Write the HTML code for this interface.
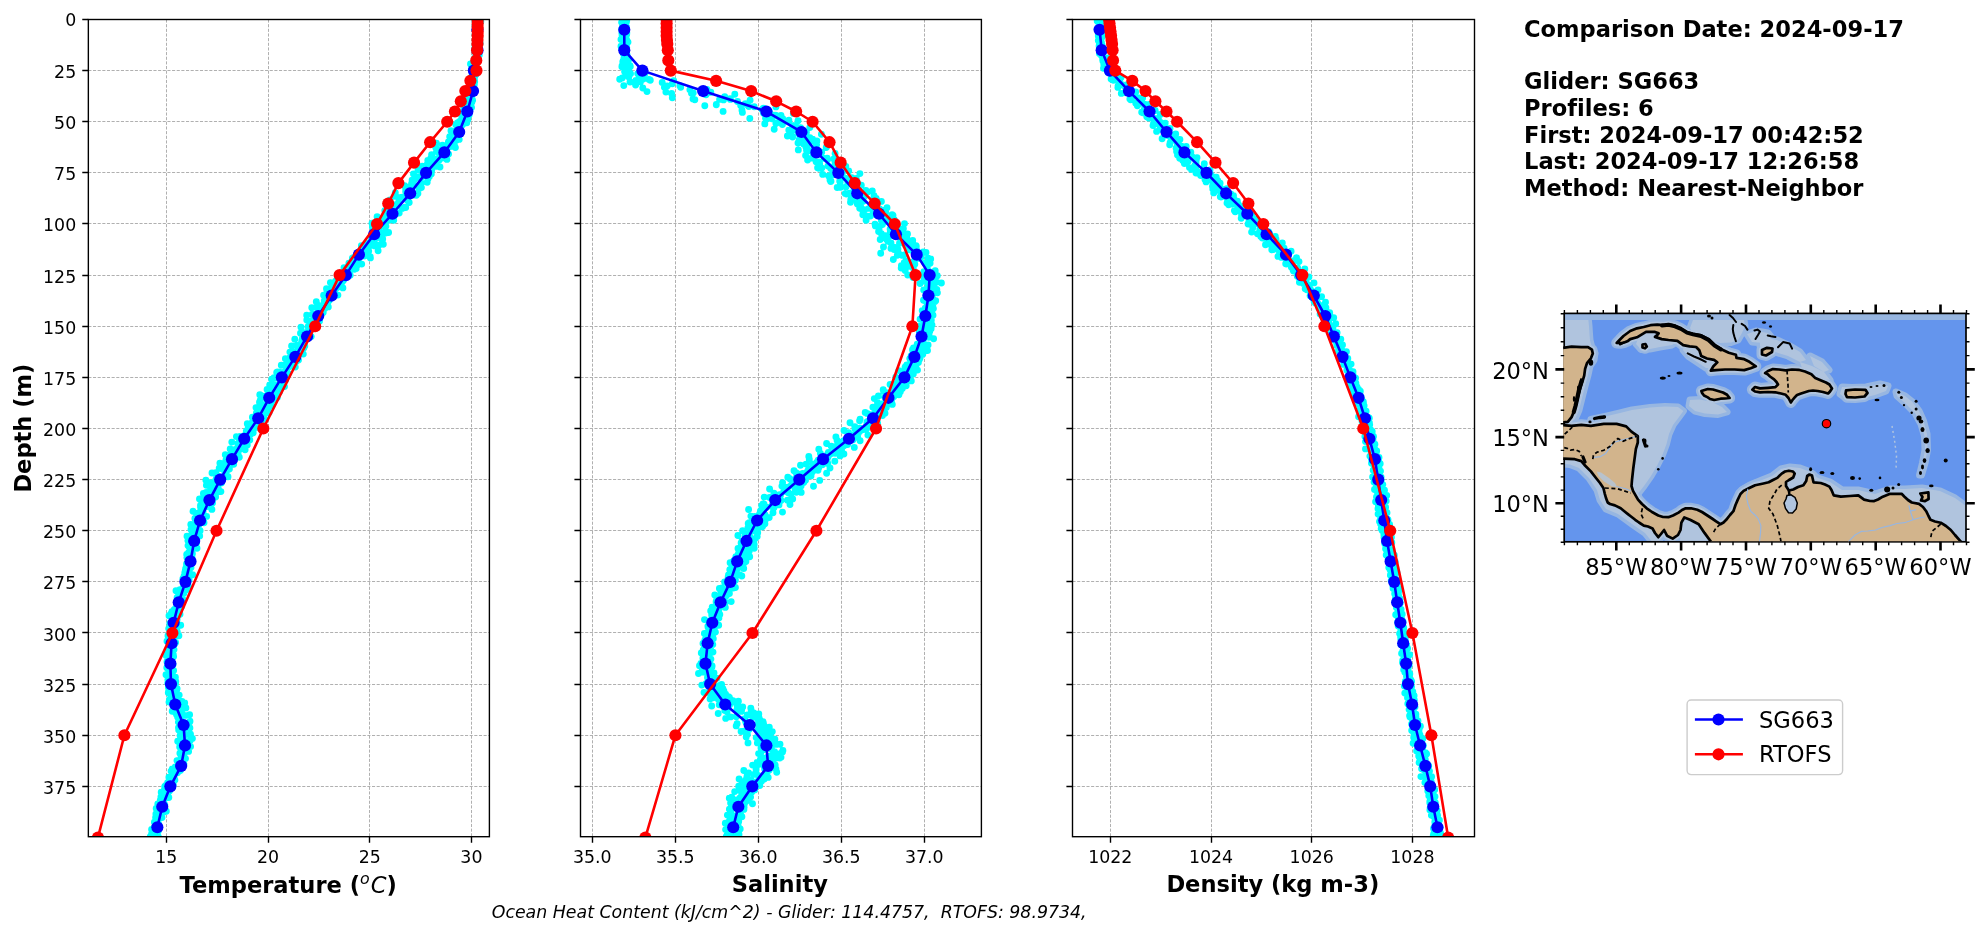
<!DOCTYPE html>
<html><head><meta charset="utf-8"><title>Glider vs RTOFS profile comparison</title>
<style>html,body{margin:0;padding:0;background:#fff;width:1983px;height:934px;overflow:hidden}</style>
</head><body>
<svg width="1983" height="934" viewBox="0 0 1983 934" style="display:block;will-change:transform;font-variant-ligatures:none">
<rect width="1983" height="934" fill="#ffffff"/>
<defs>
<clipPath id="c0"><rect x="88.35" y="19.5" width="401.05" height="817.2"/></clipPath>
<clipPath id="c1"><rect x="580.5" y="19.5" width="400.9" height="817.2"/></clipPath>
<clipPath id="c2"><rect x="1072.5" y="19.5" width="402" height="817.2"/></clipPath>
</defs>
<path d="M88.35 19.5H489.4M88.35 70.5H489.4M88.35 121.5H489.4M88.35 172.5H489.4M88.35 223.5H489.4M88.35 275.5H489.4M88.35 326.5H489.4M88.35 377.5H489.4M88.35 428.5H489.4M88.35 479.5H489.4M88.35 530.5H489.4M88.35 581.5H489.4M88.35 632.5H489.4M88.35 684.5H489.4M88.35 735.5H489.4M88.35 786.5H489.4M166.5 19.5V836.7M268.5 19.5V836.7M369.5 19.5V836.7M471.5 19.5V836.7" stroke="#b0b0b0" stroke-width="1" stroke-dasharray="3.1 1.55" fill="none"/>
<g clip-path="url(#c0)">
<path fill="none" stroke="#00ffff" stroke-width="6.9" stroke-linecap="round" d="M479.3 20.6h0M478.1 25.5h0M479.1 31.4h0M479.8 37.6h0M479.8 44.6h0M477.7 51.1h0M475.9 57.2h0M475.4 63.3h0M477.3 69.7h0M472.6 75.8h0M474.3 84.6h0M471.2 90.8h0M471.3 95.9h0M470.9 101.9h0M471.5 107.5h0M465.0 115.7h0M466.8 122.8h0M459.5 128.4h0M456.7 134.4h0M456.8 139.9h0M455.4 147.6h0M447.5 153.5h0M439.3 160.1h0M436.5 166.2h0M430.8 171.3h0M427.7 176.6h0M421.3 183.3h0M419.7 188.3h0M413.7 195.0h0M407.7 200.6h0M402.2 208.4h0M399.2 213.0h0M389.1 220.2h0M385.9 226.3h0M388.6 232.5h0M381.7 239.1h0M374.8 245.9h0M367.4 250.4h0M370.4 257.9h0M356.4 264.5h0M354.4 269.2h0M345.9 275.9h0M342.4 281.8h0M334.7 288.6h0M331.5 296.4h0M327.4 303.6h0M324.8 308.6h0M319.9 315.5h0M317.9 322.5h0M314.2 328.8h0M311.2 336.6h0M304.6 341.8h0M303.8 347.9h0M303.3 354.1h0M296.3 361.5h0M295.3 367.1h0M287.8 374.1h0M285.5 380.3h0M281.8 387.2h0M277.3 393.2h0M272.6 400.4h0M270.1 405.8h0M269.1 412.5h0M261.8 420.7h0M256.8 427.4h0M251.2 433.7h0M247.5 439.9h0M244.4 447.9h0M237.5 454.0h0M234.0 460.2h0M227.1 467.0h0M226.2 472.8h0M215.9 479.6h0M215.9 485.1h0M208.7 492.7h0M206.6 499.9h0M204.1 507.0h0M199.6 513.6h0M197.8 519.4h0M196.7 526.3h0M194.3 533.1h0M194.7 539.4h0M193.1 545.5h0M191.8 551.3h0M192.0 557.4h0M192.0 562.5h0M189.9 567.7h0M192.6 574.8h0M189.1 579.7h0M188.6 586.6h0M183.9 593.2h0M183.0 599.8h0M181.4 606.7h0M178.8 613.1h0M177.1 619.4h0M180.7 625.2h0M177.3 631.9h0M173.8 638.5h0M174.2 644.4h0M173.3 650.4h0M173.6 656.4h0M171.5 661.2h0M170.1 670.7h0M172.5 674.6h0M172.5 681.1h0M172.5 688.7h0M179.2 695.1h0M179.6 702.5h0M179.8 708.5h0M182.7 714.7h0M189.5 722.1h0M185.0 728.7h0M188.3 734.6h0M189.2 741.1h0M185.2 748.0h0M184.2 753.6h0M182.3 760.7h0M180.9 765.7h0M175.9 770.7h0M171.6 777.6h0M173.3 784.6h0M164.1 790.5h0M165.6 797.9h0M162.1 804.6h0M164.1 812.0h0M160.2 817.1h0M158.9 824.7h0M158.2 831.3h0M158.4 837.0h0M480.8 21.7h0M478.9 29.7h0M478.9 37.1h0M480.1 43.2h0M479.4 48.8h0M475.8 55.8h0M475.5 60.9h0M475.4 68.9h0M475.2 75.1h0M474.7 81.7h0M473.5 89.0h0M471.9 95.0h0M471.8 102.2h0M470.4 107.6h0M469.1 114.9h0M464.5 120.7h0M460.6 125.8h0M460.3 133.5h0M459.2 139.4h0M450.5 146.5h0M448.6 154.1h0M446.9 159.4h0M440.0 167.0h0M431.3 174.0h0M427.9 179.1h0M421.4 187.6h0M417.9 193.5h0M407.6 200.6h0M404.9 207.2h0M398.9 212.8h0M391.9 219.2h0M385.4 225.8h0M384.8 232.7h0M382.7 238.9h0M379.2 244.9h0M368.7 251.1h0M364.5 256.0h0M357.3 263.5h0M351.8 268.8h0M345.2 276.0h0M338.8 284.1h0M335.7 289.0h0M328.2 293.5h0M327.1 301.9h0M322.0 306.2h0M319.4 311.1h0M315.1 321.6h0M308.1 326.7h0M307.5 333.3h0M305.5 339.1h0M299.0 347.3h0M300.6 353.7h0M298.5 360.1h0M288.4 367.3h0M288.3 373.6h0M285.5 379.5h0M284.5 386.6h0M278.2 393.1h0M277.3 397.5h0M271.5 405.9h0M266.3 412.8h0M264.5 418.5h0M259.8 424.7h0M253.2 432.7h0M249.8 440.0h0M247.3 445.1h0M245.1 449.7h0M239.3 457.2h0M233.7 464.2h0M229.4 469.0h0M225.6 476.4h0M221.4 482.9h0M218.9 490.1h0M209.0 496.7h0M209.4 501.1h0M200.8 509.5h0M204.3 516.4h0M200.2 521.8h0M197.5 528.6h0M196.6 534.9h0M194.3 542.1h0M191.9 547.9h0M192.4 553.8h0M189.2 560.8h0M189.7 567.5h0M187.3 573.3h0M185.7 579.4h0M184.7 585.8h0M186.5 589.6h0M180.8 596.8h0M177.7 603.1h0M177.9 608.8h0M175.3 613.0h0M175.2 620.1h0M172.3 625.0h0M176.8 629.2h0M178.9 635.8h0M175.6 642.5h0M174.0 649.6h0M170.5 657.5h0M173.0 664.4h0M173.6 670.5h0M175.4 677.2h0M175.5 683.6h0M176.7 690.0h0M178.0 697.0h0M184.7 702.9h0M184.5 708.1h0M185.2 715.4h0M190.0 721.3h0M188.2 727.1h0M190.5 734.1h0M190.2 740.4h0M190.0 746.5h0M184.5 753.3h0M184.4 759.1h0M181.7 765.6h0M176.6 772.8h0M174.9 779.9h0M170.4 785.8h0M167.4 790.2h0M167.6 797.6h0M163.9 803.1h0M166.3 811.3h0M160.2 816.3h0M156.9 824.9h0M158.3 830.2h0M155.4 836.0h0M477.8 21.5h0M477.0 27.5h0M477.6 35.2h0M477.0 39.9h0M476.4 45.3h0M477.5 51.5h0M476.8 58.9h0M476.4 64.7h0M472.5 70.6h0M470.7 77.7h0M473.2 83.9h0M472.6 90.6h0M466.4 96.9h0M467.1 102.5h0M468.8 110.0h0M465.6 114.8h0M461.4 121.4h0M458.6 128.7h0M456.5 134.2h0M453.3 140.1h0M444.1 147.2h0M437.7 152.0h0M439.2 159.0h0M434.3 164.4h0M426.2 171.1h0M418.1 177.1h0M413.4 184.4h0M405.7 191.5h0M400.0 198.1h0M395.2 205.4h0M389.4 212.7h0M384.6 217.3h0M378.9 224.5h0M378.9 231.7h0M374.2 238.8h0M370.0 244.9h0M363.3 250.9h0M359.1 258.1h0M351.8 263.3h0M347.2 268.6h0M341.4 275.1h0M336.5 282.0h0M331.9 287.9h0M332.7 294.9h0M324.2 301.0h0M316.2 307.4h0M312.4 314.3h0M311.4 321.1h0M308.6 327.0h0M304.1 332.7h0M301.8 341.1h0M303.8 347.3h0M295.0 353.4h0M293.8 358.1h0M290.5 363.7h0M285.4 371.6h0M283.2 378.0h0M279.5 384.4h0M277.4 391.2h0M273.6 396.5h0M267.0 403.0h0M267.0 409.6h0M261.7 414.8h0M262.0 420.0h0M254.2 426.9h0M253.0 433.0h0M245.3 439.8h0M239.8 445.7h0M238.0 453.3h0M233.9 460.7h0M229.6 465.8h0M224.7 473.7h0M217.4 480.7h0M218.1 487.6h0M212.7 493.7h0M207.3 499.6h0M207.2 506.5h0M203.1 511.6h0M197.5 519.0h0M195.8 525.3h0M196.6 532.4h0M193.8 538.9h0M192.9 546.7h0M188.4 553.0h0M189.2 559.9h0M188.2 566.2h0M186.4 573.5h0M184.0 579.6h0M183.6 586.5h0M181.8 592.6h0M180.7 600.0h0M176.9 605.8h0M174.7 611.1h0M172.7 618.3h0M169.8 623.4h0M171.7 630.0h0M170.7 636.9h0M169.5 644.2h0M168.7 651.7h0M168.2 656.5h0M168.5 662.3h0M168.1 669.0h0M168.7 676.6h0M167.8 683.1h0M168.6 691.3h0M171.5 696.7h0M169.0 702.1h0M173.6 708.6h0M176.8 715.1h0M181.5 722.2h0M178.5 727.8h0M183.0 735.5h0M186.0 742.1h0M183.4 748.1h0M182.5 754.4h0M177.0 760.6h0M177.2 767.3h0M177.5 772.7h0M170.9 780.2h0M169.3 786.1h0M166.2 793.0h0M163.5 800.2h0M162.4 804.3h0M157.2 811.4h0M158.2 819.5h0M157.3 825.1h0M157.3 829.8h0M155.2 835.6h0M476.7 21.0h0M478.7 27.3h0M477.0 31.7h0M477.8 39.7h0M478.4 46.1h0M475.2 52.0h0M475.8 58.0h0M476.0 64.2h0M471.6 68.7h0M474.0 76.2h0M472.2 82.5h0M467.3 89.6h0M469.6 95.1h0M467.3 100.3h0M466.9 107.5h0M458.9 113.3h0M461.3 119.8h0M455.7 124.6h0M455.8 130.8h0M450.4 138.2h0M442.5 145.1h0M436.5 151.4h0M430.7 158.5h0M427.4 164.0h0M418.0 170.1h0M420.7 177.0h0M411.6 183.5h0M405.7 189.5h0M396.0 196.4h0M398.6 202.3h0M390.9 209.2h0M388.0 214.3h0M383.3 220.0h0M381.5 226.4h0M378.8 233.6h0M374.5 239.5h0M371.0 245.2h0M367.1 252.9h0M357.3 259.0h0M356.7 266.1h0M345.7 272.6h0M343.7 279.3h0M338.7 286.8h0M332.2 292.5h0M327.1 299.2h0M321.2 305.7h0M323.2 312.4h0M319.0 317.7h0M317.7 324.1h0M309.2 330.8h0M309.4 337.2h0M301.4 342.9h0M298.7 348.3h0M292.9 355.9h0M291.7 362.3h0M287.0 368.6h0M281.7 374.6h0M283.4 381.7h0M279.2 388.0h0M275.7 392.3h0M268.9 398.6h0M263.4 406.0h0M262.9 413.6h0M257.2 418.9h0M251.9 426.1h0M251.9 432.6h0M243.9 436.5h0M237.8 443.6h0M240.1 449.2h0M230.3 454.6h0M225.6 461.5h0M220.9 468.6h0M217.9 476.1h0M210.9 482.6h0M210.6 488.0h0M203.4 493.5h0M200.3 499.2h0M200.5 507.0h0M196.5 513.4h0M195.6 519.5h0M192.9 526.5h0M192.0 535.0h0M187.9 540.6h0M188.0 545.6h0M191.1 549.8h0M186.9 557.6h0M190.0 562.1h0M185.6 568.7h0M184.0 576.3h0M184.2 581.9h0M182.3 588.7h0M178.6 594.8h0M178.1 602.2h0M175.4 608.8h0M170.8 614.0h0M173.2 619.9h0M172.1 627.7h0M169.1 635.2h0M171.4 641.7h0M173.2 646.2h0M173.3 654.6h0M171.4 662.3h0M170.2 668.2h0M172.1 674.5h0M175.8 681.4h0M177.1 688.6h0M177.2 694.9h0M182.0 701.5h0M185.9 708.0h0M189.6 714.7h0M189.7 722.1h0M189.9 728.0h0M190.4 734.2h0M192.4 738.5h0M190.6 746.6h0M186.5 751.5h0M185.5 758.6h0M183.9 764.1h0M174.5 770.8h0M174.1 778.0h0M170.6 782.2h0M165.4 788.4h0M167.5 793.4h0M161.3 800.0h0M162.9 805.2h0M160.0 812.0h0M158.5 819.4h0M155.6 825.9h0M155.9 832.7h0M475.3 22.6h0M476.1 29.0h0M475.4 35.8h0M475.8 42.1h0M475.0 47.5h0M476.3 54.4h0M476.3 61.0h0M474.4 67.8h0M473.9 73.2h0M469.6 81.2h0M469.8 87.1h0M470.4 94.6h0M466.7 100.4h0M466.1 107.9h0M464.3 115.0h0M457.4 122.9h0M459.4 129.2h0M457.8 135.1h0M448.4 142.0h0M444.9 148.5h0M441.2 154.2h0M434.9 159.1h0M427.2 167.4h0M422.9 173.5h0M415.2 178.7h0M409.8 186.8h0M406.6 192.5h0M402.4 197.2h0M398.3 205.0h0M390.3 211.2h0M387.9 216.3h0M380.7 223.0h0M378.5 229.8h0M375.9 236.9h0M368.8 243.0h0M363.5 249.4h0M353.7 257.4h0M352.1 262.1h0M345.9 270.0h0M341.8 276.0h0M335.6 281.2h0M332.3 285.7h0M327.0 292.5h0M325.0 297.7h0M318.0 305.3h0M318.2 308.8h0M312.7 314.8h0M310.4 322.5h0M308.6 329.1h0M304.7 334.0h0M302.4 341.3h0M296.9 345.6h0M292.5 351.9h0M291.1 358.7h0M284.9 365.4h0M279.7 372.1h0M277.3 377.8h0M269.7 385.0h0M271.2 391.0h0M263.0 396.3h0M259.5 402.3h0M257.8 409.6h0M257.4 414.1h0M252.8 421.5h0M248.2 427.2h0M245.7 434.1h0M239.6 440.2h0M238.0 446.3h0M233.4 453.5h0M226.0 460.0h0M223.7 466.2h0M215.9 472.8h0M217.3 480.0h0M209.5 484.4h0M206.2 492.4h0M199.5 499.0h0M202.6 505.0h0M193.0 511.2h0M194.9 518.5h0M193.3 524.8h0M191.0 529.5h0M187.0 536.2h0M190.2 541.6h0M189.4 547.6h0M186.7 554.4h0M188.9 561.1h0M187.0 567.5h0M184.8 572.6h0M182.9 578.8h0M187.6 584.5h0M179.9 589.6h0M177.1 597.7h0M181.5 603.5h0M178.4 609.7h0M174.3 616.0h0M173.1 623.1h0M173.2 629.2h0M171.4 635.8h0M170.0 642.5h0M169.7 648.1h0M166.9 653.1h0M170.6 660.4h0M166.8 667.7h0M168.9 673.0h0M169.5 679.9h0M171.0 685.5h0M168.3 692.7h0M169.5 699.4h0M173.7 704.2h0M172.2 711.3h0M177.7 717.3h0M181.6 722.7h0M178.7 729.9h0M180.1 735.8h0M179.3 742.7h0M182.3 748.4h0M180.5 754.3h0M177.2 760.6h0M175.3 767.4h0M172.3 772.9h0M171.1 780.4h0M165.5 785.7h0M161.2 792.3h0M162.8 798.1h0M157.8 803.9h0M157.5 810.2h0M156.3 818.8h0M156.0 824.7h0M151.6 829.5h0M150.3 836.8h0M479.2 21.7h0M479.5 30.3h0M478.0 34.4h0M478.1 39.5h0M477.5 47.6h0M479.3 55.1h0M476.2 61.5h0M475.4 68.0h0M476.2 74.2h0M474.4 79.6h0M473.0 85.5h0M470.2 94.1h0M470.9 100.0h0M467.8 105.3h0M464.3 111.6h0M462.4 119.4h0M458.7 124.9h0M451.0 130.8h0M449.7 136.8h0M436.4 143.2h0M435.8 147.7h0M431.6 154.8h0M427.8 160.4h0M422.3 166.1h0M413.5 173.9h0M412.1 180.1h0M404.5 185.7h0M395.3 192.8h0M390.1 200.0h0M387.2 205.2h0M384.8 210.8h0M377.1 216.8h0M372.0 223.2h0M373.4 229.3h0M370.9 236.9h0M366.4 244.0h0M365.4 249.7h0M356.4 256.7h0M351.6 261.8h0M344.0 267.6h0M340.2 273.4h0M337.0 280.4h0M332.9 288.2h0M330.8 294.4h0M325.7 300.1h0M322.2 307.5h0M318.0 313.3h0M313.5 319.3h0M311.8 326.4h0M307.9 333.3h0M302.4 338.4h0M297.4 345.5h0M295.6 351.8h0M289.6 357.9h0M286.4 364.2h0M277.5 371.9h0M274.0 377.8h0M274.4 384.5h0M268.1 391.5h0M264.5 396.7h0M261.0 404.4h0M258.7 411.1h0M253.1 417.8h0M247.3 423.8h0M246.3 431.1h0M236.4 436.6h0M231.8 442.1h0M230.2 449.0h0M225.3 454.8h0M219.9 463.1h0M219.2 468.1h0M212.0 473.0h0M205.9 480.2h0M206.4 485.3h0M206.4 493.4h0M203.1 498.0h0M200.5 505.5h0M201.9 511.0h0M196.8 516.7h0M190.8 524.4h0M194.8 530.0h0M193.0 535.6h0M190.4 542.3h0M191.3 548.6h0M191.9 553.5h0M191.8 559.5h0M186.5 565.7h0M187.6 573.8h0M185.5 579.8h0M184.2 585.5h0M181.3 591.5h0M177.7 597.9h0M180.4 604.2h0M171.9 611.8h0M173.6 617.3h0M169.9 623.6h0M172.3 630.6h0M173.0 635.2h0M170.1 642.7h0M169.0 651.3h0M171.6 654.6h0M170.7 662.5h0M169.0 667.9h0M169.2 674.4h0M171.0 682.3h0M170.3 687.5h0M173.2 694.1h0M173.0 700.9h0M178.0 708.9h0M181.7 713.1h0M178.4 722.1h0M182.0 728.7h0M183.1 733.1h0M177.7 741.3h0M179.7 747.0h0M179.9 753.2h0M177.8 760.5h0M175.3 766.9h0M171.1 771.1h0M168.9 777.3h0M167.8 784.8h0M163.8 791.3h0M160.9 796.9h0M160.4 803.0h0M159.3 809.4h0M155.6 817.5h0M154.4 822.3h0M157.7 828.7h0M154.2 834.8h0M476.2 20.4h0M476.1 26.3h0M476.8 34.2h0M475.6 40.1h0M475.7 45.9h0M475.5 51.6h0M474.7 58.4h0M470.5 64.0h0M473.3 72.5h0M471.2 78.4h0M469.9 85.5h0M469.7 90.8h0M471.5 95.6h0M468.7 102.8h0M463.8 108.7h0M466.4 116.0h0M459.3 121.8h0M458.9 127.7h0M455.0 133.2h0M453.0 140.5h0M442.4 148.2h0M445.7 153.6h0M436.2 158.6h0M431.3 164.9h0M429.4 172.1h0M421.1 177.4h0M413.6 183.7h0M409.9 191.4h0M400.8 197.5h0M396.5 204.5h0M392.4 210.4h0M389.5 214.9h0M380.3 220.1h0M372.4 227.0h0M377.0 233.8h0M375.7 238.6h0M361.4 245.8h0M362.5 251.7h0M352.4 258.3h0M348.9 263.3h0M346.3 270.0h0M338.0 276.8h0M330.4 282.6h0M326.5 288.8h0M323.6 295.2h0M316.3 301.8h0M311.8 307.8h0M306.7 315.2h0M306.8 320.0h0M301.0 327.3h0M300.5 333.3h0M294.8 339.3h0M291.6 345.9h0M289.9 352.1h0M285.4 358.8h0M281.3 365.3h0M276.7 372.5h0M271.7 379.1h0M272.5 385.0h0M267.1 389.5h0M259.8 394.8h0M260.3 400.2h0M256.0 407.6h0M256.4 412.9h0M252.4 417.2h0M250.9 424.0h0M252.2 429.2h0M239.9 436.4h0M238.4 443.3h0M235.9 449.9h0M232.0 458.3h0M229.6 464.5h0M224.2 469.8h0M216.5 478.3h0M215.6 486.2h0M217.1 492.2h0M208.2 497.7h0M205.7 504.5h0M202.8 510.4h0M199.2 516.6h0M198.4 525.4h0M191.9 531.3h0M191.4 538.9h0M190.7 544.8h0M190.8 551.2h0M189.6 558.0h0M186.5 563.9h0M185.3 570.4h0M183.2 579.1h0M183.8 583.1h0M176.0 590.8h0M180.0 598.2h0M176.9 602.8h0M174.2 609.6h0M169.0 615.7h0M173.5 621.9h0M168.7 628.6h0M168.0 635.7h0M167.0 641.3h0M168.7 648.8h0M166.1 655.6h0M167.0 661.7h0M170.1 669.2h0M166.0 674.8h0M167.9 679.8h0M168.4 687.2h0M168.5 691.8h0M174.1 699.2h0M174.9 706.8h0M176.1 713.4h0M180.9 720.3h0M182.0 725.3h0M183.3 731.2h0M183.3 737.7h0M181.9 744.0h0M182.6 749.9h0M181.1 756.0h0M178.6 764.4h0M172.3 769.0h0M171.5 775.4h0M167.6 782.7h0M164.7 786.8h0M162.0 794.5h0M160.3 800.2h0M156.2 808.5h0M155.9 814.0h0M156.3 820.6h0M154.1 827.6h0M151.5 834.2h0M478.1 20.2h0M477.2 25.6h0M477.1 33.5h0M478.4 40.1h0M478.7 45.4h0M476.4 52.0h0M476.2 57.8h0M473.2 63.8h0M473.6 70.6h0M474.8 76.5h0M472.6 83.4h0M473.9 89.5h0M469.3 94.2h0M472.6 100.2h0M467.4 107.2h0M469.2 113.4h0M467.8 119.5h0M462.5 124.8h0M460.1 131.0h0M457.6 138.8h0M454.4 144.9h0M444.3 152.4h0M442.2 157.9h0M434.4 164.9h0M431.7 170.2h0M429.4 176.5h0M427.2 182.3h0M418.8 188.8h0M416.3 195.3h0M409.2 202.5h0M405.7 207.6h0M396.0 214.1h0M393.7 220.2h0M384.4 226.0h0M385.7 233.0h0M381.6 238.1h0M383.3 244.3h0M378.1 250.8h0M370.2 256.7h0M361.7 264.1h0M356.2 268.5h0M350.2 275.2h0M343.5 280.3h0M342.9 287.9h0M337.9 295.1h0M329.2 300.4h0M328.3 306.9h0M319.3 313.7h0M319.5 321.2h0M316.4 328.0h0M308.8 335.3h0M307.2 338.3h0M304.8 346.0h0M300.5 353.3h0M297.6 360.0h0M292.4 366.1h0M284.9 371.7h0M284.4 380.2h0M281.1 385.5h0M279.4 392.0h0M269.7 398.5h0M268.4 405.1h0M262.3 411.5h0M259.4 417.3h0M254.4 424.2h0M252.8 430.6h0M246.1 435.6h0M240.7 444.2h0M234.2 449.7h0M233.7 457.7h0M229.7 464.2h0M226.0 469.4h0M228.0 476.7h0M217.3 483.0h0M220.9 491.6h0M215.6 497.0h0M212.5 502.9h0M211.9 509.4h0M206.6 516.4h0M204.0 522.7h0M200.1 530.7h0M199.7 536.0h0M196.5 543.0h0M197.0 548.2h0M191.2 554.4h0M192.1 559.4h0M191.0 567.6h0M189.4 569.9h0M188.4 576.5h0M187.6 584.7h0M186.1 590.1h0M181.2 596.4h0M180.9 603.6h0M177.7 609.1h0M180.0 614.3h0M176.8 620.6h0M174.1 625.6h0M174.7 632.8h0M172.8 639.7h0M172.1 646.7h0M171.9 652.3h0M170.5 658.8h0M171.4 664.7h0M170.6 671.6h0M174.1 677.9h0M173.5 683.6h0M171.4 688.6h0M174.5 695.0h0M175.3 701.7h0M175.8 706.9h0M177.0 713.6h0M180.0 720.5h0M186.1 726.8h0M184.7 733.5h0M183.3 739.0h0M187.4 745.9h0M188.6 751.4h0M184.3 759.3h0M181.3 765.1h0M180.3 770.6h0M173.3 777.9h0M173.0 783.7h0M169.5 790.9h0M168.8 797.5h0M164.8 805.0h0M164.4 811.7h0M162.0 817.6h0M158.5 826.0h0M156.5 832.5h0M157.5 839.5h0"/>
<polyline points="477.5,29.72 477.5,50.17 473.84,70.62 473.03,91.07 467.33,111.52 459.2,131.97 444.35,152.42 426.04,172.87 410.18,193.32 392.48,213.77 374.17,234.22 358.92,254.66 345.9,275.11 331.66,295.56 318.24,316.01 307.05,336.46 295.26,356.91 281.83,377.36 269.22,397.81 258.24,418.26 244.2,438.71 232,459.15 220.2,479.6 209.42,500.05 200.06,520.5 194.17,540.95 190.5,561.4 185.42,581.85 178.71,602.3 173.62,622.75 171.59,643.2 170.37,663.65 170.98,684.09 175.25,704.54 183.59,724.99 185.01,745.44 181.15,765.89 170.37,786.34 162.23,806.79 157.35,827.24" stroke="#0000ff" stroke-width="2.6" fill="none" stroke-linejoin="round" stroke-linecap="square"/>
<g fill="#0000ff"><circle cx="477.5" cy="29.72" r="6.08"/><circle cx="477.5" cy="50.17" r="6.08"/><circle cx="473.84" cy="70.62" r="6.08"/><circle cx="473.03" cy="91.07" r="6.08"/><circle cx="467.33" cy="111.52" r="6.08"/><circle cx="459.2" cy="131.97" r="6.08"/><circle cx="444.35" cy="152.42" r="6.08"/><circle cx="426.04" cy="172.87" r="6.08"/><circle cx="410.18" cy="193.32" r="6.08"/><circle cx="392.48" cy="213.77" r="6.08"/><circle cx="374.17" cy="234.22" r="6.08"/><circle cx="358.92" cy="254.66" r="6.08"/><circle cx="345.9" cy="275.11" r="6.08"/><circle cx="331.66" cy="295.56" r="6.08"/><circle cx="318.24" cy="316.01" r="6.08"/><circle cx="307.05" cy="336.46" r="6.08"/><circle cx="295.26" cy="356.91" r="6.08"/><circle cx="281.83" cy="377.36" r="6.08"/><circle cx="269.22" cy="397.81" r="6.08"/><circle cx="258.24" cy="418.26" r="6.08"/><circle cx="244.2" cy="438.71" r="6.08"/><circle cx="232" cy="459.15" r="6.08"/><circle cx="220.2" cy="479.6" r="6.08"/><circle cx="209.42" cy="500.05" r="6.08"/><circle cx="200.06" cy="520.5" r="6.08"/><circle cx="194.17" cy="540.95" r="6.08"/><circle cx="190.5" cy="561.4" r="6.08"/><circle cx="185.42" cy="581.85" r="6.08"/><circle cx="178.71" cy="602.3" r="6.08"/><circle cx="173.62" cy="622.75" r="6.08"/><circle cx="171.59" cy="643.2" r="6.08"/><circle cx="170.37" cy="663.65" r="6.08"/><circle cx="170.98" cy="684.09" r="6.08"/><circle cx="175.25" cy="704.54" r="6.08"/><circle cx="183.59" cy="724.99" r="6.08"/><circle cx="185.01" cy="745.44" r="6.08"/><circle cx="181.15" cy="765.89" r="6.08"/><circle cx="170.37" cy="786.34" r="6.08"/><circle cx="162.23" cy="806.79" r="6.08"/><circle cx="157.35" cy="827.24" r="6.08"/></g>
<polyline points="477.71,19.5 477.71,23.59 477.71,27.68 477.71,31.77 477.71,35.86 477.5,39.95 477.5,44.04 477.1,50.17 476.28,60.4 476.49,70.62 470.38,80.85 465.3,91.07 460.82,101.3 454.92,111.52 447.2,121.75 430.11,142.19 414.04,162.64 398.38,183.09 388.21,203.54 377.02,223.99 339.6,275.11 315.19,326.24 263.32,428.48 216.54,530.73 172.4,632.97 124.4,735.22 97.96,837.46" stroke="#ff0000" stroke-width="2.6" fill="none" stroke-linejoin="round" stroke-linecap="square"/>
<g fill="#ff0000"><circle cx="477.71" cy="19.5" r="6.08"/><circle cx="477.71" cy="23.59" r="6.08"/><circle cx="477.71" cy="27.68" r="6.08"/><circle cx="477.71" cy="31.77" r="6.08"/><circle cx="477.71" cy="35.86" r="6.08"/><circle cx="477.5" cy="39.95" r="6.08"/><circle cx="477.5" cy="44.04" r="6.08"/><circle cx="477.1" cy="50.17" r="6.08"/><circle cx="476.28" cy="60.4" r="6.08"/><circle cx="476.49" cy="70.62" r="6.08"/><circle cx="470.38" cy="80.85" r="6.08"/><circle cx="465.3" cy="91.07" r="6.08"/><circle cx="460.82" cy="101.3" r="6.08"/><circle cx="454.92" cy="111.52" r="6.08"/><circle cx="447.2" cy="121.75" r="6.08"/><circle cx="430.11" cy="142.19" r="6.08"/><circle cx="414.04" cy="162.64" r="6.08"/><circle cx="398.38" cy="183.09" r="6.08"/><circle cx="388.21" cy="203.54" r="6.08"/><circle cx="377.02" cy="223.99" r="6.08"/><circle cx="339.6" cy="275.11" r="6.08"/><circle cx="315.19" cy="326.24" r="6.08"/><circle cx="263.32" cy="428.48" r="6.08"/><circle cx="216.54" cy="530.73" r="6.08"/><circle cx="172.4" cy="632.97" r="6.08"/><circle cx="124.4" cy="735.22" r="6.08"/><circle cx="97.96" cy="837.46" r="6.08"/></g>
</g>
<rect x="88.35" y="19.5" width="401.05" height="817.2" fill="none" stroke="#000" stroke-width="1.39" stroke-linejoin="miter"/>
<path d="M88.35 19.5h-6.08M88.35 70.5h-6.08M88.35 121.5h-6.08M88.35 172.5h-6.08M88.35 223.5h-6.08M88.35 275.5h-6.08M88.35 326.5h-6.08M88.35 377.5h-6.08M88.35 428.5h-6.08M88.35 479.5h-6.08M88.35 530.5h-6.08M88.35 581.5h-6.08M88.35 632.5h-6.08M88.35 684.5h-6.08M88.35 735.5h-6.08M88.35 786.5h-6.08M166.5 836.7v6.08M268.5 836.7v6.08M369.5 836.7v6.08M471.5 836.7v6.08" stroke="#000" stroke-width="1.39" fill="none"/>
<g font-family="'DejaVu Sans', 'Liberation Sans', sans-serif" font-size="17.36px" fill="#000"><text x="166.3" y="862.8" text-anchor="middle">15</text><text x="268" y="862.8" text-anchor="middle">20</text><text x="369.7" y="862.8" text-anchor="middle">25</text><text x="471.4" y="862.8" text-anchor="middle">30</text><text x="76.2" y="26.1" text-anchor="end">0</text><text x="76.2" y="78.22" text-anchor="end">25</text><text x="76.2" y="129.35" text-anchor="end">50</text><text x="76.2" y="180.47" text-anchor="end">75</text><text x="76.2" y="230.59" text-anchor="end">100</text><text x="76.2" y="282.71" text-anchor="end">125</text><text x="76.2" y="333.84" text-anchor="end">150</text><text x="76.2" y="384.96" text-anchor="end">175</text><text x="76.2" y="436.08" text-anchor="end">200</text><text x="76.2" y="487.2" text-anchor="end">225</text><text x="76.2" y="538.33" text-anchor="end">250</text><text x="76.2" y="589.45" text-anchor="end">275</text><text x="76.2" y="640.57" text-anchor="end">300</text><text x="76.2" y="691.69" text-anchor="end">325</text><text x="76.2" y="742.82" text-anchor="end">350</text><text x="76.2" y="793.94" text-anchor="end">375</text></g>
<path d="M580.5 19.5H981.4M580.5 70.5H981.4M580.5 121.5H981.4M580.5 172.5H981.4M580.5 223.5H981.4M580.5 275.5H981.4M580.5 326.5H981.4M580.5 377.5H981.4M580.5 428.5H981.4M580.5 479.5H981.4M580.5 530.5H981.4M580.5 581.5H981.4M580.5 632.5H981.4M580.5 684.5H981.4M580.5 735.5H981.4M580.5 786.5H981.4M592.5 19.5V836.7M675.5 19.5V836.7M758.5 19.5V836.7M841.5 19.5V836.7M924.5 19.5V836.7" stroke="#b0b0b0" stroke-width="1" stroke-dasharray="3.1 1.55" fill="none"/>
<g clip-path="url(#c1)">
<path fill="none" stroke="#00ffff" stroke-width="6.9" stroke-linecap="round" d="M625.5 22.0h0M626.2 28.7h0M626.0 36.7h0M625.8 41.1h0M625.9 47.3h0M625.5 53.6h0M626.8 59.8h0M629.0 67.4h0M627.1 71.7h0M649.0 79.4h0M680.7 87.3h0M710.8 92.2h0M730.4 99.4h0M754.2 106.7h0M767.4 111.9h0M782.7 118.7h0M792.6 125.6h0M804.0 132.9h0M812.6 139.3h0M805.8 146.7h0M821.7 152.2h0M824.4 158.4h0M838.6 165.0h0M836.7 170.4h0M842.3 175.5h0M840.2 182.2h0M854.1 189.6h0M855.1 195.9h0M863.2 201.2h0M871.0 208.0h0M872.8 214.3h0M881.4 220.6h0M879.3 226.8h0M890.2 232.7h0M886.8 239.4h0M893.9 247.1h0M898.9 253.9h0M905.8 261.1h0M907.7 266.1h0M923.5 274.1h0M924.0 279.7h0M928.0 284.9h0M932.5 291.7h0M930.6 297.4h0M930.5 304.3h0M928.7 309.6h0M931.0 315.1h0M930.7 320.9h0M930.3 328.3h0M927.3 334.6h0M922.0 340.9h0M924.2 348.4h0M922.8 354.3h0M913.8 360.5h0M910.4 367.6h0M910.5 375.3h0M911.3 380.9h0M902.4 387.4h0M898.9 394.7h0M891.1 400.4h0M884.0 408.3h0M882.5 415.5h0M877.0 420.3h0M868.7 426.9h0M858.0 433.8h0M852.8 439.9h0M843.9 445.8h0M835.2 453.2h0M827.2 459.0h0M822.4 464.7h0M812.6 471.6h0M796.3 477.7h0M792.0 483.9h0M787.5 491.5h0M778.1 498.9h0M772.0 505.4h0M762.1 511.0h0M754.5 516.4h0M749.2 522.7h0M755.6 529.9h0M746.6 536.2h0M747.4 543.2h0M740.8 550.1h0M737.4 557.1h0M737.4 563.3h0M734.5 568.2h0M731.1 574.4h0M727.6 581.0h0M719.4 588.4h0M719.7 595.4h0M719.4 600.8h0M715.3 608.2h0M711.7 614.9h0M710.0 621.6h0M708.0 626.9h0M708.3 634.9h0M704.2 642.2h0M706.3 647.9h0M706.9 654.8h0M707.4 661.5h0M707.6 668.7h0M709.3 675.0h0M708.9 682.6h0M713.0 687.0h0M718.4 694.6h0M722.3 699.3h0M726.6 706.8h0M747.4 714.9h0M745.4 720.8h0M759.5 726.9h0M762.4 733.5h0M769.9 740.7h0M772.0 745.5h0M782.1 752.2h0M772.9 759.6h0M771.9 764.8h0M776.7 772.3h0M768.2 777.4h0M759.2 784.1h0M754.7 789.9h0M750.6 797.1h0M752.5 803.8h0M738.8 809.7h0M734.1 817.0h0M736.5 822.7h0M734.3 830.0h0M733.3 836.5h0M625.6 21.8h0M625.3 28.3h0M623.6 34.3h0M625.3 40.0h0M623.5 47.5h0M625.0 52.8h0M625.0 58.2h0M626.2 63.2h0M627.8 71.2h0M639.0 77.5h0M662.2 82.5h0M689.9 89.8h0M706.0 94.7h0M737.5 101.5h0M763.1 108.4h0M773.8 115.3h0M781.6 122.9h0M795.7 128.5h0M798.7 133.7h0M807.4 141.4h0M815.9 147.0h0M813.4 153.0h0M826.2 159.0h0M833.7 167.0h0M838.8 170.2h0M841.2 177.3h0M847.9 182.5h0M854.2 191.0h0M859.4 195.7h0M872.9 204.0h0M878.5 211.2h0M886.2 217.4h0M891.9 223.6h0M897.7 231.2h0M900.8 240.0h0M905.4 245.3h0M911.4 250.3h0M918.9 258.4h0M914.8 264.2h0M923.9 271.7h0M928.3 278.1h0M933.3 284.9h0M928.3 292.8h0M929.1 298.8h0M927.6 305.0h0M929.9 311.5h0M927.5 316.0h0M929.6 323.5h0M928.5 330.1h0M921.4 336.5h0M919.5 344.0h0M913.5 347.9h0M919.8 353.2h0M913.4 360.0h0M905.4 366.6h0M903.4 372.1h0M897.1 378.3h0M890.1 384.4h0M883.5 390.4h0M874.3 398.6h0M878.5 404.5h0M865.2 412.4h0M860.1 419.3h0M850.0 422.7h0M844.0 430.5h0M835.9 436.9h0M826.6 443.5h0M818.8 449.2h0M808.8 456.5h0M800.5 465.3h0M794.0 470.8h0M787.8 477.2h0M782.6 482.6h0M769.6 489.0h0M764.2 497.1h0M763.0 504.0h0M748.6 509.5h0M750.9 516.1h0M748.2 523.4h0M742.6 530.7h0M737.9 535.5h0M741.1 542.9h0M738.0 548.5h0M740.7 554.6h0M733.8 560.7h0M732.9 567.9h0M728.5 574.9h0M728.0 583.3h0M720.0 589.2h0M717.1 595.6h0M717.2 601.0h0M716.5 608.5h0M719.8 614.4h0M710.8 620.7h0M710.1 626.5h0M710.2 633.8h0M704.9 640.1h0M704.6 647.2h0M706.4 653.1h0M704.0 660.0h0M712.1 665.9h0M712.7 672.9h0M711.7 678.4h0M710.5 684.1h0M720.1 690.5h0M724.9 695.7h0M733.2 702.1h0M741.6 709.9h0M752.3 714.4h0M763.4 722.9h0M758.2 729.7h0M765.6 735.7h0M763.7 741.9h0M766.5 747.4h0M761.0 752.2h0M763.1 758.0h0M752.6 765.1h0M748.6 773.0h0M739.1 779.0h0M738.7 786.2h0M734.7 791.6h0M729.3 798.3h0M733.3 804.5h0M729.4 809.3h0M727.4 815.1h0M725.3 823.2h0M725.6 829.6h0M727.1 834.9h0M622.3 21.7h0M622.3 27.3h0M622.2 34.0h0M622.5 39.8h0M621.0 46.2h0M624.3 52.5h0M623.8 58.8h0M622.0 65.9h0M624.6 71.4h0M622.2 78.0h0M635.6 85.0h0M665.9 92.1h0M693.0 98.9h0M716.3 104.5h0M742.0 110.2h0M765.5 118.3h0M775.9 123.4h0M789.7 130.5h0M800.2 137.8h0M803.5 144.1h0M806.5 149.9h0M811.9 158.0h0M819.2 162.0h0M818.6 168.2h0M832.1 175.0h0M830.7 181.5h0M837.2 187.5h0M846.5 194.0h0M850.5 202.3h0M859.7 208.2h0M862.8 214.7h0M866.1 220.2h0M875.4 225.9h0M881.3 233.6h0M880.2 239.5h0M883.5 247.0h0M880.7 253.3h0M893.3 259.5h0M901.4 265.8h0M905.2 270.6h0M913.0 277.6h0M920.1 283.5h0M923.7 289.9h0M925.8 295.6h0M926.3 301.9h0M925.2 308.1h0M928.8 312.1h0M920.1 319.3h0M919.2 326.4h0M919.3 331.8h0M922.6 338.9h0M917.7 344.7h0M917.1 352.5h0M916.4 359.8h0M915.9 365.8h0M913.3 372.9h0M905.3 379.3h0M902.2 385.4h0M893.9 391.9h0M891.6 399.9h0M879.4 405.5h0M876.2 410.5h0M870.8 416.9h0M870.8 423.8h0M860.1 428.1h0M851.0 436.0h0M841.0 442.3h0M835.3 448.2h0M828.4 455.7h0M816.7 462.5h0M808.6 469.1h0M799.2 474.2h0M792.9 480.7h0M787.8 487.3h0M780.5 495.3h0M773.2 502.2h0M764.2 507.1h0M763.0 513.2h0M760.1 518.8h0M752.8 524.6h0M751.8 531.2h0M748.2 536.1h0M742.6 541.8h0M742.9 548.9h0M740.8 555.8h0M736.7 560.9h0M731.9 566.4h0M730.3 572.0h0M728.1 578.1h0M729.0 585.2h0M721.2 591.6h0M724.4 598.0h0M720.1 605.2h0M718.4 610.6h0M714.2 618.5h0M710.9 624.3h0M709.8 629.0h0M709.0 635.1h0M709.0 641.2h0M705.1 646.6h0M701.3 652.9h0M706.6 659.8h0M699.5 665.7h0M698.5 673.5h0M708.1 679.0h0M701.8 685.1h0M704.0 692.4h0M710.1 699.0h0M711.7 706.0h0M718.2 713.5h0M725.7 718.4h0M736.2 725.9h0M741.1 731.5h0M746.2 736.9h0M748.0 742.9h0M761.0 747.9h0M758.6 753.6h0M760.4 759.4h0M756.4 766.7h0M747.1 773.2h0M745.7 780.1h0M746.6 785.7h0M741.5 792.9h0M735.8 800.7h0M735.1 805.5h0M730.6 812.1h0M733.1 819.5h0M732.4 825.6h0M728.9 830.8h0M727.6 836.9h0M626.7 20.8h0M626.5 26.9h0M626.4 34.0h0M626.0 42.3h0M626.5 48.1h0M626.8 55.0h0M626.9 64.0h0M626.6 68.6h0M630.5 73.7h0M640.5 81.8h0M664.4 87.2h0M691.5 93.3h0M723.5 99.9h0M748.8 106.6h0M769.4 111.8h0M780.1 119.5h0M794.8 125.4h0M801.7 133.1h0M809.9 137.8h0M816.6 144.8h0M821.3 152.3h0M827.2 158.2h0M835.1 162.7h0M846.1 170.1h0M851.7 177.6h0M856.0 184.2h0M865.9 190.4h0M874.0 195.7h0M881.4 201.4h0M887.0 207.7h0M892.1 214.8h0M894.2 219.6h0M897.5 226.1h0M900.6 232.7h0M906.8 238.1h0M911.2 244.6h0M916.5 249.5h0M921.2 257.0h0M924.8 263.1h0M928.4 270.9h0M932.3 276.6h0M934.5 282.7h0M936.3 289.6h0M932.3 294.8h0M935.7 300.7h0M932.9 306.8h0M931.0 313.8h0M924.5 319.6h0M927.7 327.1h0M925.7 333.1h0M922.4 341.0h0M918.8 346.6h0M918.5 352.5h0M914.6 358.4h0M910.5 363.2h0M907.5 369.7h0M907.8 377.6h0M898.6 383.1h0M899.6 387.4h0M891.0 393.9h0M886.1 399.2h0M879.8 406.8h0M875.7 412.9h0M871.3 418.4h0M866.5 425.7h0M859.6 431.5h0M848.1 436.8h0M842.9 443.0h0M834.4 451.9h0M828.3 456.6h0M824.7 462.8h0M811.9 468.9h0M811.0 475.9h0M804.4 480.1h0M799.1 488.0h0M788.3 492.8h0M779.4 500.5h0M773.1 507.4h0M763.4 512.5h0M764.2 518.9h0M757.8 524.3h0M750.9 531.7h0M750.4 537.6h0M745.1 543.5h0M748.7 549.3h0M744.9 556.4h0M742.2 562.5h0M734.7 568.5h0M731.0 574.0h0M731.1 581.6h0M733.2 588.1h0M724.9 594.6h0M721.9 599.9h0M725.3 607.4h0M718.9 613.0h0M716.5 619.7h0M718.7 625.3h0M715.4 632.1h0M713.3 638.7h0M712.8 644.6h0M713.0 652.1h0M710.9 659.1h0M710.8 666.2h0M709.6 673.3h0M713.4 679.9h0M718.7 685.8h0M723.9 690.9h0M729.4 697.5h0M737.1 703.8h0M751.2 710.1h0M752.8 717.3h0M759.5 723.1h0M766.2 730.3h0M767.8 735.9h0M771.2 741.4h0M768.9 747.0h0M776.9 753.8h0M770.7 759.7h0M764.2 766.1h0M756.2 773.1h0M750.8 779.7h0M750.1 786.3h0M744.1 791.7h0M740.0 797.9h0M738.4 804.9h0M739.0 810.1h0M734.1 815.9h0M735.6 822.5h0M734.8 828.1h0M737.3 836.1h0M626.5 21.3h0M626.3 27.9h0M625.5 34.7h0M628.0 42.1h0M626.7 47.4h0M627.0 54.7h0M628.1 60.9h0M630.0 65.6h0M637.7 73.6h0M650.3 80.2h0M679.9 85.8h0M705.2 91.5h0M730.0 98.7h0M746.7 104.4h0M762.1 109.6h0M775.6 115.2h0M786.6 120.9h0M800.5 127.7h0M805.8 134.7h0M812.9 140.7h0M816.2 147.3h0M818.4 154.1h0M827.4 159.8h0M828.0 166.0h0M840.0 172.6h0M845.5 178.1h0M852.2 184.8h0M855.4 191.6h0M864.4 196.6h0M872.8 203.4h0M879.6 209.0h0M885.6 212.0h0M888.8 220.4h0M896.9 227.7h0M901.1 233.9h0M912.5 240.6h0M916.0 245.8h0M923.2 251.9h0M928.2 258.1h0M930.1 263.3h0M935.2 270.8h0M937.3 275.7h0M936.7 282.1h0M934.9 288.5h0M931.2 295.1h0M935.0 301.5h0M933.4 308.6h0M933.0 315.3h0M923.9 321.9h0M931.1 328.8h0M929.1 335.4h0M922.6 341.4h0M922.6 349.6h0M918.1 355.1h0M913.2 359.7h0M908.3 368.7h0M902.7 375.6h0M899.3 380.6h0M892.5 386.4h0M883.6 391.6h0M885.6 398.0h0M877.5 405.3h0M875.5 410.8h0M871.0 414.6h0M866.9 422.2h0M855.0 428.9h0M848.7 434.8h0M843.7 440.8h0M838.3 446.9h0M831.6 453.5h0M818.2 460.1h0M818.7 467.8h0M811.4 473.5h0M805.5 480.3h0M801.1 486.0h0M796.2 492.3h0M787.5 500.3h0M779.0 504.9h0M773.0 512.7h0M765.9 519.0h0M762.9 526.0h0M756.7 531.9h0M751.8 540.6h0M754.2 544.4h0M749.1 551.4h0M749.7 556.8h0M743.9 563.1h0M743.7 568.5h0M741.8 576.0h0M734.7 581.0h0M735.4 587.5h0M729.4 593.5h0M731.2 601.6h0M724.0 606.3h0M717.4 611.5h0M718.9 618.0h0M714.6 624.4h0M714.2 629.2h0M710.8 635.6h0M708.7 642.3h0M710.8 650.3h0M708.4 656.5h0M708.3 662.5h0M706.4 669.0h0M710.5 673.8h0M711.9 680.5h0M716.0 688.5h0M725.6 694.1h0M732.9 700.6h0M742.7 707.0h0M753.8 713.0h0M758.0 719.4h0M764.0 725.4h0M772.3 731.6h0M770.8 737.6h0M776.5 744.4h0M782.5 752.1h0M776.3 758.1h0M771.3 764.5h0M769.1 770.2h0M763.0 776.0h0M755.2 783.5h0M750.8 790.5h0M748.8 798.0h0M743.5 802.9h0M743.9 809.4h0M741.9 816.8h0M735.0 822.3h0M739.0 828.1h0M734.0 834.1h0M626.4 22.0h0M626.0 28.9h0M626.8 33.0h0M626.8 40.1h0M626.5 45.8h0M625.4 54.6h0M628.6 59.7h0M630.3 66.4h0M645.0 73.4h0M673.7 80.6h0M706.9 89.5h0M734.8 94.2h0M750.1 100.2h0M775.9 106.9h0M793.3 113.5h0M798.0 120.7h0M809.8 127.5h0M821.4 134.2h0M816.9 140.9h0M826.2 147.5h0M835.1 153.5h0M841.2 160.5h0M845.8 166.4h0M859.9 173.6h0M851.2 179.3h0M857.6 183.6h0M872.3 190.9h0M876.2 198.4h0M875.3 205.9h0M885.1 213.4h0M893.7 220.3h0M896.8 225.7h0M902.4 231.5h0M906.1 236.3h0M907.5 242.3h0M909.3 249.8h0M919.7 256.4h0M925.5 263.5h0M927.2 268.8h0M935.0 275.2h0M941.4 283.0h0M936.8 289.5h0M932.2 296.5h0M932.3 301.8h0M929.3 308.8h0M930.7 314.8h0M931.3 320.2h0M930.3 326.9h0M929.7 331.4h0M928.8 337.3h0M928.1 345.0h0M927.5 350.5h0M920.1 357.8h0M916.9 362.5h0M917.5 370.1h0M907.4 377.5h0M902.4 383.6h0M898.2 390.4h0M897.2 394.6h0M889.8 402.4h0M883.3 408.0h0M880.6 415.2h0M873.3 422.2h0M863.6 429.6h0M857.7 437.5h0M847.6 444.5h0M839.4 451.1h0M840.1 455.9h0M827.8 463.4h0M818.0 470.2h0M806.9 476.1h0M803.7 482.4h0M795.0 488.4h0M790.8 493.9h0M781.0 500.4h0M773.9 507.7h0M765.1 514.9h0M762.7 520.7h0M762.0 526.9h0M757.7 532.8h0M755.0 538.7h0M753.5 544.2h0M742.5 550.6h0M741.8 557.9h0M736.9 563.9h0M733.0 569.3h0M730.4 575.1h0M729.5 582.8h0M726.6 589.8h0M726.5 595.5h0M722.9 602.6h0M719.8 606.6h0M717.6 613.8h0M710.7 620.5h0M714.0 626.5h0M712.5 631.8h0M708.7 638.2h0M710.8 645.7h0M706.0 650.3h0M704.7 655.6h0M710.2 664.1h0M710.7 670.7h0M716.9 678.3h0M721.6 684.5h0M722.9 688.8h0M728.4 696.7h0M738.4 701.3h0M750.8 708.1h0M758.8 714.0h0M763.0 721.7h0M769.3 727.3h0M771.4 732.6h0M774.9 739.3h0M780.0 744.2h0M782.9 750.5h0M779.9 758.0h0M775.2 765.0h0M767.4 771.5h0M764.3 779.1h0M759.8 785.5h0M751.8 792.0h0M747.0 797.3h0M742.0 803.1h0M737.2 808.1h0M741.0 815.4h0M738.7 821.5h0M739.0 827.9h0M739.0 834.5h0M625.9 22.3h0M626.4 28.7h0M626.7 34.5h0M625.7 39.3h0M623.9 47.8h0M625.9 52.5h0M627.0 58.3h0M627.4 63.5h0M627.3 69.3h0M628.8 77.1h0M630.0 82.0h0M642.8 88.0h0M671.6 93.4h0M694.8 99.7h0M716.3 104.8h0M742.4 112.4h0M766.1 119.6h0M776.6 122.9h0M788.8 130.1h0M792.6 137.0h0M804.3 141.1h0M807.1 148.4h0M816.2 154.6h0M816.1 161.7h0M830.7 168.6h0M839.1 175.0h0M839.7 181.3h0M845.9 186.9h0M850.8 194.6h0M857.6 202.2h0M869.1 208.4h0M877.3 215.5h0M885.7 221.3h0M890.1 229.1h0M886.3 236.2h0M899.5 243.3h0M898.0 249.1h0M902.5 255.4h0M906.6 262.6h0M908.7 266.2h0M923.6 273.5h0M928.7 279.8h0M928.1 286.8h0M931.9 293.4h0M927.5 298.0h0M928.0 304.9h0M932.0 310.7h0M930.4 316.0h0M932.0 325.0h0M928.7 330.8h0M933.6 338.7h0M923.6 343.7h0M919.4 349.9h0M919.2 356.6h0M918.4 362.5h0M911.3 369.0h0M913.3 374.1h0M904.0 382.2h0M902.3 388.4h0M893.7 396.7h0M890.0 402.1h0M886.3 407.5h0M885.0 413.2h0M877.6 423.2h0M877.1 428.3h0M867.9 435.1h0M860.1 440.7h0M854.3 447.4h0M843.9 454.0h0M834.8 461.2h0M830.0 468.0h0M826.6 473.2h0M819.7 480.4h0M813.5 486.2h0M801.2 492.4h0M792.7 499.0h0M790.0 504.6h0M782.5 512.1h0M769.2 517.6h0M764.9 523.8h0M756.5 529.6h0M757.2 536.4h0M753.7 542.4h0M754.2 548.2h0M746.3 554.2h0M745.9 561.4h0M737.6 568.4h0M739.7 574.8h0M735.4 580.3h0M729.0 586.7h0M728.1 593.7h0M722.6 600.8h0M718.2 607.4h0M716.5 614.1h0M714.2 618.3h0M710.4 626.4h0M707.4 632.8h0M707.5 638.8h0M704.7 646.6h0M705.1 652.5h0M702.9 658.3h0M706.5 664.7h0M703.9 672.0h0M710.2 678.5h0M708.5 685.6h0M711.8 693.7h0M718.3 699.2h0M729.5 704.9h0M736.7 710.5h0M744.7 718.7h0M748.7 724.2h0M764.1 731.4h0M764.1 737.3h0M770.9 744.8h0M774.5 751.7h0M781.0 757.3h0M773.4 764.3h0M775.9 769.0h0M766.6 774.4h0M761.6 781.0h0M752.5 786.4h0M750.8 791.7h0M747.6 797.2h0M744.2 804.4h0M739.1 811.1h0M737.0 815.5h0M738.3 822.7h0M740.2 828.9h0M735.4 836.1h0M621.6 22.2h0M621.8 29.3h0M622.1 35.2h0M622.9 43.1h0M621.6 48.3h0M623.3 53.7h0M624.2 60.4h0M621.9 66.8h0M626.6 72.5h0M619.7 79.3h0M623.8 85.6h0M647.0 91.6h0M672.3 97.7h0M704.8 105.8h0M723.1 111.4h0M749.8 118.4h0M764.8 123.9h0M774.2 129.3h0M787.4 136.0h0M798.0 143.0h0M798.3 149.9h0M805.6 155.4h0M807.6 160.1h0M817.6 167.8h0M822.7 174.4h0M831.0 181.2h0M839.4 186.7h0M845.2 193.6h0M852.1 199.8h0M860.6 206.4h0M864.6 209.8h0M866.8 216.0h0M882.4 224.6h0M878.6 231.5h0M888.4 237.7h0M891.0 242.9h0M894.1 249.5h0M904.3 254.9h0M912.6 262.0h0M913.3 268.3h0M923.5 275.5h0M933.2 280.7h0M929.1 287.7h0M926.4 293.5h0M932.8 300.2h0M929.2 305.6h0M926.1 312.7h0M923.7 318.2h0M925.8 324.6h0M923.7 330.6h0M923.0 338.7h0M917.2 344.2h0M912.5 349.7h0M911.1 355.9h0M913.4 361.1h0M905.0 367.5h0M902.3 373.5h0M900.4 378.7h0M896.7 385.6h0M887.7 392.9h0M884.9 397.6h0M882.8 403.8h0M877.6 410.3h0M871.7 416.4h0M867.3 421.6h0M857.2 428.7h0M853.9 435.0h0M846.1 441.3h0M836.6 445.9h0M828.4 452.4h0M821.7 457.5h0M812.6 464.3h0M807.7 471.0h0M803.1 475.1h0M794.0 483.5h0M786.2 489.1h0M779.5 494.8h0M776.0 502.4h0M766.7 507.2h0M759.5 514.2h0M757.6 520.3h0M754.1 525.7h0M751.8 530.9h0M748.6 537.6h0M746.0 544.6h0M740.1 549.0h0M738.1 555.9h0M732.2 563.4h0M734.7 570.6h0M728.2 576.5h0M729.2 583.9h0M728.3 590.0h0M722.9 596.6h0M725.3 602.4h0M716.2 610.0h0M714.0 616.2h0M715.0 622.6h0M708.9 628.6h0M712.8 634.2h0M705.4 639.3h0M709.4 646.5h0M709.4 654.5h0M707.2 660.8h0M702.8 665.3h0M702.4 672.0h0M707.9 678.7h0M712.6 686.3h0M708.4 692.5h0M713.0 697.7h0M719.2 704.8h0M727.0 711.7h0M736.3 716.7h0M737.1 723.8h0M743.7 731.3h0M756.2 737.6h0M757.4 742.9h0M765.7 749.3h0M769.9 756.3h0M757.1 762.5h0M756.1 769.5h0M754.1 774.4h0M751.2 781.3h0M744.4 787.7h0M743.7 793.7h0M737.3 799.8h0M734.8 805.4h0M730.9 811.6h0M730.2 818.3h0M727.7 825.4h0M727.1 830.8h0M726.2 836.8h0M622.3 20.5h0M622.9 27.8h0M621.9 33.3h0M621.0 39.5h0M624.8 46.3h0M624.0 53.1h0M624.1 58.6h0M623.6 65.3h0M629.4 72.3h0M643.3 79.1h0M672.3 83.7h0M704.7 92.1h0M724.7 96.8h0M745.3 103.6h0M763.5 108.3h0M781.0 115.5h0M788.9 120.2h0M796.6 127.1h0M806.4 132.2h0M811.7 140.8h0M815.8 145.5h0M820.1 152.0h0M833.9 158.9h0M838.5 166.2h0M848.7 171.0h0M856.2 178.5h0M861.3 185.3h0M867.6 192.0h0M873.9 197.5h0M878.4 201.5h0M884.7 210.1h0M893.0 215.4h0M904.5 223.6h0M903.4 228.6h0M907.5 233.9h0M912.7 240.4h0M916.3 246.3h0M926.0 252.5h0M930.7 258.9h0M927.4 265.9h0M931.2 272.9h0M932.2 280.3h0M934.0 285.3h0M937.4 292.7h0M931.7 297.9h0M930.9 305.0h0M922.2 310.6h0M923.9 318.0h0M923.9 323.4h0M921.3 331.9h0M920.2 336.8h0M918.8 344.5h0M916.3 351.2h0M909.8 358.6h0M906.8 365.0h0M898.8 370.6h0M895.8 377.3h0M895.2 384.1h0M883.2 389.8h0M878.4 395.9h0M877.5 402.8h0M872.9 407.3h0M867.1 413.4h0M859.6 420.7h0M854.8 426.7h0M848.6 432.8h0M837.1 440.4h0M831.3 446.3h0M820.4 453.4h0M809.3 459.1h0M806.1 464.1h0M795.9 472.6h0M789.8 478.7h0M781.9 486.1h0M773.9 493.2h0M769.6 497.4h0M761.7 505.6h0M760.4 510.9h0M756.3 517.2h0M753.9 522.4h0M748.0 527.7h0M747.1 534.2h0M744.8 539.1h0M744.7 547.4h0M738.4 553.6h0M737.8 557.9h0M738.4 566.0h0M735.4 573.0h0M735.2 579.0h0M728.2 584.1h0M724.3 589.9h0M726.1 596.0h0M716.1 601.8h0M718.9 609.4h0M715.3 615.8h0M709.7 622.3h0M712.4 628.6h0M712.6 635.3h0M709.6 643.0h0M708.4 648.5h0M709.0 653.4h0M709.8 662.3h0M711.9 667.0h0M714.0 673.0h0M714.9 678.7h0M720.9 685.3h0M723.6 692.3h0M731.4 700.4h0M737.2 706.1h0M741.4 711.4h0M759.3 718.4h0M758.2 724.3h0M764.5 730.2h0M768.1 737.6h0M766.8 744.8h0M763.5 749.8h0M768.3 756.4h0M761.1 764.0h0M743.8 770.5h0M746.9 777.0h0M742.0 782.8h0M739.4 790.1h0M731.7 797.1h0M730.6 802.9h0M730.4 808.7h0M730.2 813.8h0M729.3 821.3h0M728.2 829.4h0M729.3 833.5h0M623.8 23.1h0M624.6 29.1h0M624.4 35.4h0M624.5 42.7h0M625.1 50.9h0M625.3 56.4h0M622.8 61.8h0M625.2 66.4h0M626.1 74.5h0M635.9 80.4h0M667.2 86.0h0M693.2 92.9h0M719.6 99.4h0M740.7 105.6h0M763.6 113.2h0M771.9 118.8h0M782.4 124.6h0M792.2 131.0h0M799.2 139.7h0M807.9 143.6h0M809.6 150.7h0M813.5 155.9h0M819.7 164.0h0M821.8 168.1h0M828.7 176.0h0M830.0 180.1h0M840.5 187.2h0M849.6 193.3h0M850.8 199.8h0M857.4 203.9h0M862.9 211.1h0M870.4 216.1h0M875.0 224.1h0M879.1 230.0h0M885.5 235.8h0M887.9 241.2h0M891.0 248.4h0M897.3 255.2h0M904.2 262.7h0M901.2 268.1h0M907.7 275.0h0M925.2 281.2h0M928.4 286.8h0M928.0 292.9h0M923.5 300.3h0M932.0 307.7h0M925.9 313.5h0M923.2 318.4h0M925.0 327.4h0M922.1 333.2h0M923.4 339.2h0M921.0 346.3h0M919.5 351.8h0M919.5 359.3h0M915.7 365.8h0M909.4 370.5h0M903.9 377.3h0M906.2 385.7h0M900.3 391.7h0M889.9 398.7h0M892.3 404.4h0M883.1 410.5h0M874.9 416.4h0M876.2 422.8h0M866.3 429.3h0M856.1 436.2h0M847.7 442.9h0M841.7 448.9h0M827.7 453.9h0M821.4 459.8h0M817.9 465.9h0M802.8 473.4h0M799.9 476.9h0M791.4 485.2h0M783.8 491.2h0M777.0 498.2h0M764.1 504.2h0M761.5 511.9h0M758.5 517.6h0M754.1 523.8h0M749.7 528.8h0M745.1 536.0h0M741.9 541.3h0M740.8 548.9h0M735.9 556.8h0M730.1 562.7h0M729.8 569.8h0M729.1 574.9h0M724.6 582.0h0M721.8 587.9h0M714.8 595.0h0M716.6 599.6h0M712.2 607.1h0M710.7 610.9h0M704.5 619.6h0M707.9 626.1h0M704.4 633.4h0M705.6 638.9h0M703.0 643.4h0M703.2 649.9h0M706.3 656.7h0M700.9 663.4h0M701.9 671.5h0M707.5 677.5h0M706.0 683.8h0M711.1 690.6h0M711.0 696.6h0M722.6 704.4h0M724.8 710.4h0M730.6 716.9h0M746.0 722.4h0M749.1 729.5h0M747.4 734.6h0M758.4 742.0h0M771.6 749.5h0M772.4 756.1h0M766.3 763.3h0M764.6 768.8h0M758.5 775.6h0M756.5 781.8h0M752.7 788.0h0M745.1 794.7h0M746.0 801.6h0M744.1 807.2h0M739.5 812.6h0M738.0 819.4h0M733.3 827.0h0M729.6 832.8h0M731.2 838.9h0"/>
<polyline points="624.29,29.72 624.29,50.17 642.39,70.62 703.16,91.07 766.43,111.52 801.46,131.97 816.41,152.42 838.33,172.87 857.26,193.32 879.01,213.77 895.95,234.22 916.7,254.66 929.65,275.11 928.49,295.56 925.34,316.01 921.52,336.46 914.38,356.91 904.41,377.36 888.47,397.81 873.03,418.26 848.95,438.71 823.05,459.15 799.3,479.6 775.23,500.05 757.13,520.5 746.5,540.95 737.2,561.4 730.23,581.85 720.6,602.3 712.29,622.75 707.64,643.2 705.49,663.65 710.14,684.09 725.25,704.54 749.66,724.99 766.43,745.44 768.09,765.89 752.31,786.34 738.36,806.79 733.22,827.24" stroke="#0000ff" stroke-width="2.6" fill="none" stroke-linejoin="round" stroke-linecap="square"/>
<g fill="#0000ff"><circle cx="624.29" cy="29.72" r="6.08"/><circle cx="624.29" cy="50.17" r="6.08"/><circle cx="642.39" cy="70.62" r="6.08"/><circle cx="703.16" cy="91.07" r="6.08"/><circle cx="766.43" cy="111.52" r="6.08"/><circle cx="801.46" cy="131.97" r="6.08"/><circle cx="816.41" cy="152.42" r="6.08"/><circle cx="838.33" cy="172.87" r="6.08"/><circle cx="857.26" cy="193.32" r="6.08"/><circle cx="879.01" cy="213.77" r="6.08"/><circle cx="895.95" cy="234.22" r="6.08"/><circle cx="916.7" cy="254.66" r="6.08"/><circle cx="929.65" cy="275.11" r="6.08"/><circle cx="928.49" cy="295.56" r="6.08"/><circle cx="925.34" cy="316.01" r="6.08"/><circle cx="921.52" cy="336.46" r="6.08"/><circle cx="914.38" cy="356.91" r="6.08"/><circle cx="904.41" cy="377.36" r="6.08"/><circle cx="888.47" cy="397.81" r="6.08"/><circle cx="873.03" cy="418.26" r="6.08"/><circle cx="848.95" cy="438.71" r="6.08"/><circle cx="823.05" cy="459.15" r="6.08"/><circle cx="799.3" cy="479.6" r="6.08"/><circle cx="775.23" cy="500.05" r="6.08"/><circle cx="757.13" cy="520.5" r="6.08"/><circle cx="746.5" cy="540.95" r="6.08"/><circle cx="737.2" cy="561.4" r="6.08"/><circle cx="730.23" cy="581.85" r="6.08"/><circle cx="720.6" cy="602.3" r="6.08"/><circle cx="712.29" cy="622.75" r="6.08"/><circle cx="707.64" cy="643.2" r="6.08"/><circle cx="705.49" cy="663.65" r="6.08"/><circle cx="710.14" cy="684.09" r="6.08"/><circle cx="725.25" cy="704.54" r="6.08"/><circle cx="749.66" cy="724.99" r="6.08"/><circle cx="766.43" cy="745.44" r="6.08"/><circle cx="768.09" cy="765.89" r="6.08"/><circle cx="752.31" cy="786.34" r="6.08"/><circle cx="738.36" cy="806.79" r="6.08"/><circle cx="733.22" cy="827.24" r="6.08"/></g>
<polyline points="666.63,19.5 666.63,23.59 666.63,27.68 666.63,31.77 666.63,35.86 666.96,39.95 667.29,44.04 667.79,50.17 668.29,60.4 670.78,70.62 716.11,80.85 751.15,91.07 776.22,101.3 796.15,111.52 812.59,121.75 829.53,142.19 840.65,162.64 854.77,183.09 874.69,203.54 894.78,223.99 915.54,275.11 912.38,326.24 876.02,428.48 816.41,530.73 752.48,632.97 675.43,735.22 645.38,837.46" stroke="#ff0000" stroke-width="2.6" fill="none" stroke-linejoin="round" stroke-linecap="square"/>
<g fill="#ff0000"><circle cx="666.63" cy="19.5" r="6.08"/><circle cx="666.63" cy="23.59" r="6.08"/><circle cx="666.63" cy="27.68" r="6.08"/><circle cx="666.63" cy="31.77" r="6.08"/><circle cx="666.63" cy="35.86" r="6.08"/><circle cx="666.96" cy="39.95" r="6.08"/><circle cx="667.29" cy="44.04" r="6.08"/><circle cx="667.79" cy="50.17" r="6.08"/><circle cx="668.29" cy="60.4" r="6.08"/><circle cx="670.78" cy="70.62" r="6.08"/><circle cx="716.11" cy="80.85" r="6.08"/><circle cx="751.15" cy="91.07" r="6.08"/><circle cx="776.22" cy="101.3" r="6.08"/><circle cx="796.15" cy="111.52" r="6.08"/><circle cx="812.59" cy="121.75" r="6.08"/><circle cx="829.53" cy="142.19" r="6.08"/><circle cx="840.65" cy="162.64" r="6.08"/><circle cx="854.77" cy="183.09" r="6.08"/><circle cx="874.69" cy="203.54" r="6.08"/><circle cx="894.78" cy="223.99" r="6.08"/><circle cx="915.54" cy="275.11" r="6.08"/><circle cx="912.38" cy="326.24" r="6.08"/><circle cx="876.02" cy="428.48" r="6.08"/><circle cx="816.41" cy="530.73" r="6.08"/><circle cx="752.48" cy="632.97" r="6.08"/><circle cx="675.43" cy="735.22" r="6.08"/><circle cx="645.38" cy="837.46" r="6.08"/></g>
</g>
<rect x="580.5" y="19.5" width="400.9" height="817.2" fill="none" stroke="#000" stroke-width="1.39" stroke-linejoin="miter"/>
<path d="M580.5 19.5h-6.08M580.5 70.5h-6.08M580.5 121.5h-6.08M580.5 172.5h-6.08M580.5 223.5h-6.08M580.5 275.5h-6.08M580.5 326.5h-6.08M580.5 377.5h-6.08M580.5 428.5h-6.08M580.5 479.5h-6.08M580.5 530.5h-6.08M580.5 581.5h-6.08M580.5 632.5h-6.08M580.5 684.5h-6.08M580.5 735.5h-6.08M580.5 786.5h-6.08M592.5 836.7v6.08M675.5 836.7v6.08M758.5 836.7v6.08M841.5 836.7v6.08M924.5 836.7v6.08" stroke="#000" stroke-width="1.39" fill="none"/>
<g font-family="'DejaVu Sans', 'Liberation Sans', sans-serif" font-size="17.36px" fill="#000"><text x="592.24" y="862.8" text-anchor="middle">35.0</text><text x="675.26" y="862.8" text-anchor="middle">35.5</text><text x="758.29" y="862.8" text-anchor="middle">36.0</text><text x="841.32" y="862.8" text-anchor="middle">36.5</text><text x="924.34" y="862.8" text-anchor="middle">37.0</text></g>
<path d="M1072.5 19.5H1474.5M1072.5 70.5H1474.5M1072.5 121.5H1474.5M1072.5 172.5H1474.5M1072.5 223.5H1474.5M1072.5 275.5H1474.5M1072.5 326.5H1474.5M1072.5 377.5H1474.5M1072.5 428.5H1474.5M1072.5 479.5H1474.5M1072.5 530.5H1474.5M1072.5 581.5H1474.5M1072.5 632.5H1474.5M1072.5 684.5H1474.5M1072.5 735.5H1474.5M1072.5 786.5H1474.5M1110.5 19.5V836.7M1211.5 19.5V836.7M1311.5 19.5V836.7M1412.5 19.5V836.7" stroke="#b0b0b0" stroke-width="1" stroke-dasharray="3.1 1.55" fill="none"/>
<g clip-path="url(#c2)">
<path fill="none" stroke="#00ffff" stroke-width="6.9" stroke-linecap="round" d="M1099.3 20.4h0M1099.2 25.8h0M1101.0 31.2h0M1100.8 38.0h0M1101.2 43.5h0M1101.0 48.5h0M1102.6 55.1h0M1104.9 61.3h0M1108.5 68.1h0M1114.2 75.8h0M1119.7 81.4h0M1124.8 86.2h0M1132.5 93.0h0M1141.7 100.1h0M1147.2 106.5h0M1151.1 111.6h0M1158.4 118.3h0M1163.4 124.2h0M1165.5 131.5h0M1173.2 138.4h0M1177.4 143.9h0M1185.9 150.4h0M1192.0 156.6h0M1196.1 162.7h0M1203.3 169.0h0M1211.9 176.2h0M1217.8 180.7h0M1225.3 189.1h0M1231.0 194.2h0M1235.5 200.7h0M1243.1 206.6h0M1248.0 212.1h0M1256.3 219.1h0M1262.2 225.0h0M1268.6 231.8h0M1275.3 236.4h0M1282.3 243.0h0M1291.1 251.3h0M1296.5 257.8h0M1299.0 261.6h0M1304.8 269.0h0M1308.9 277.0h0M1314.0 282.9h0M1318.0 290.0h0M1321.6 296.6h0M1325.5 302.3h0M1325.9 307.8h0M1329.7 312.7h0M1333.7 317.8h0M1335.7 323.7h0M1337.1 332.8h0M1340.8 339.2h0M1342.5 345.0h0M1346.4 351.8h0M1347.8 358.4h0M1351.1 364.1h0M1353.0 371.6h0M1355.6 378.1h0M1355.9 383.1h0M1358.6 389.5h0M1361.0 396.6h0M1363.3 401.7h0M1362.9 408.8h0M1365.0 415.7h0M1366.6 421.6h0M1368.4 427.6h0M1368.2 435.6h0M1372.0 440.7h0M1372.6 447.1h0M1372.7 452.3h0M1372.5 459.0h0M1377.2 464.7h0M1375.0 470.9h0M1377.4 477.7h0M1376.4 483.5h0M1379.9 489.7h0M1379.8 496.5h0M1378.5 503.0h0M1381.7 510.3h0M1382.3 516.5h0M1383.8 523.1h0M1385.1 530.3h0M1388.6 537.0h0M1387.4 545.4h0M1389.2 552.7h0M1390.2 559.1h0M1392.7 566.4h0M1391.2 570.4h0M1394.3 577.5h0M1394.7 584.0h0M1396.2 591.9h0M1397.9 595.8h0M1398.9 603.5h0M1399.9 610.5h0M1401.4 617.4h0M1402.3 622.3h0M1403.6 628.7h0M1404.0 636.0h0M1403.3 642.3h0M1407.6 648.5h0M1409.6 654.8h0M1407.3 663.0h0M1408.2 668.3h0M1409.8 673.9h0M1411.6 681.5h0M1411.5 686.8h0M1412.8 691.7h0M1414.3 700.0h0M1414.5 705.6h0M1415.9 714.3h0M1418.0 720.9h0M1420.4 726.3h0M1419.0 732.0h0M1422.9 738.6h0M1423.4 745.4h0M1425.5 752.6h0M1425.0 758.5h0M1427.8 765.0h0M1428.8 772.7h0M1429.6 779.4h0M1430.8 785.5h0M1428.5 792.3h0M1430.6 798.9h0M1434.7 805.4h0M1435.2 813.8h0M1435.4 819.9h0M1434.6 826.5h0M1433.8 833.4h0M1099.1 22.0h0M1097.1 29.0h0M1098.8 33.8h0M1098.3 40.4h0M1099.7 45.9h0M1101.5 52.5h0M1102.7 58.3h0M1103.8 64.4h0M1107.2 70.1h0M1115.8 77.8h0M1121.9 84.9h0M1129.3 90.7h0M1139.0 97.9h0M1144.5 104.3h0M1149.2 109.9h0M1153.6 118.2h0M1160.1 122.3h0M1164.5 129.2h0M1170.3 134.7h0M1176.7 140.5h0M1181.4 146.3h0M1189.3 153.5h0M1196.3 160.0h0M1203.8 168.3h0M1210.4 174.0h0M1215.7 180.2h0M1219.9 184.6h0M1226.4 191.2h0M1233.6 198.0h0M1238.5 204.7h0M1246.6 211.6h0M1251.9 215.7h0M1257.5 223.2h0M1263.8 228.9h0M1271.4 237.7h0M1275.5 243.6h0M1284.1 248.2h0M1288.4 254.0h0M1293.6 260.7h0M1297.7 268.0h0M1300.9 273.7h0M1305.4 279.6h0M1308.7 285.3h0M1312.7 291.6h0M1316.9 298.8h0M1320.7 305.5h0M1323.3 311.9h0M1328.5 318.1h0M1329.1 326.7h0M1332.3 334.0h0M1333.8 339.8h0M1336.8 345.5h0M1340.1 353.1h0M1343.1 357.4h0M1344.1 363.4h0M1347.3 370.2h0M1349.7 376.5h0M1352.1 383.1h0M1352.4 389.2h0M1354.4 397.0h0M1358.3 403.7h0M1360.5 409.3h0M1361.5 415.7h0M1362.1 421.5h0M1363.9 426.9h0M1366.1 433.4h0M1366.9 440.1h0M1368.8 448.7h0M1371.6 453.4h0M1371.6 459.6h0M1374.4 466.6h0M1374.9 471.9h0M1374.8 480.1h0M1376.3 486.6h0M1377.9 493.1h0M1379.3 499.6h0M1378.4 505.7h0M1379.4 513.2h0M1380.9 518.5h0M1380.6 523.9h0M1382.2 530.4h0M1384.0 537.2h0M1384.7 543.4h0M1385.6 548.8h0M1388.0 554.9h0M1389.1 561.6h0M1390.0 569.4h0M1390.4 575.2h0M1392.5 580.0h0M1393.0 586.7h0M1395.8 592.3h0M1395.4 598.5h0M1398.1 604.8h0M1398.0 610.5h0M1399.9 616.5h0M1401.6 624.1h0M1400.8 630.2h0M1400.6 636.7h0M1403.5 644.6h0M1404.4 648.8h0M1405.7 656.3h0M1405.9 661.6h0M1403.7 669.7h0M1407.5 675.2h0M1408.2 682.6h0M1407.2 688.5h0M1409.2 695.3h0M1410.1 701.5h0M1411.8 707.7h0M1409.6 715.7h0M1412.4 720.5h0M1413.1 724.9h0M1414.0 733.2h0M1415.5 738.3h0M1417.6 745.7h0M1418.5 751.6h0M1419.3 757.2h0M1423.1 765.3h0M1422.6 769.2h0M1425.4 775.7h0M1425.5 782.0h0M1428.6 789.0h0M1428.8 795.7h0M1429.8 801.5h0M1430.1 808.1h0M1431.4 815.3h0M1434.8 822.0h0M1433.5 828.4h0M1433.3 835.3h0M1102.1 18.9h0M1101.7 24.4h0M1102.4 33.1h0M1101.3 38.2h0M1102.0 45.0h0M1103.5 51.1h0M1106.9 57.9h0M1110.2 64.6h0M1112.3 71.7h0M1121.0 77.6h0M1127.1 84.6h0M1135.7 92.0h0M1142.6 98.1h0M1149.2 104.5h0M1155.2 110.5h0M1160.3 114.5h0M1165.2 123.1h0M1170.0 128.5h0M1175.7 133.9h0M1179.9 139.5h0M1186.2 146.5h0M1190.8 152.3h0M1197.0 157.6h0M1204.3 163.7h0M1210.0 169.9h0M1216.2 177.3h0M1220.1 183.2h0M1226.7 188.8h0M1233.5 195.7h0M1237.4 201.2h0M1247.4 207.9h0M1251.6 214.3h0M1256.5 221.5h0M1262.8 226.1h0M1269.3 233.1h0M1276.0 239.3h0M1281.5 244.2h0M1283.7 252.0h0M1286.8 256.2h0M1291.6 262.7h0M1297.3 268.2h0M1301.2 275.3h0M1306.2 282.0h0M1310.3 289.3h0M1313.0 296.3h0M1315.8 301.3h0M1319.0 308.3h0M1325.3 315.8h0M1328.7 321.7h0M1329.4 326.9h0M1333.1 333.5h0M1335.6 338.2h0M1339.2 345.3h0M1342.6 351.4h0M1343.9 358.5h0M1346.2 364.5h0M1349.3 372.6h0M1352.5 377.4h0M1355.4 383.8h0M1358.8 392.2h0M1359.5 398.5h0M1363.4 402.2h0M1364.7 411.5h0M1368.8 417.8h0M1369.7 424.7h0M1372.2 431.5h0M1373.5 436.5h0M1374.9 444.2h0M1376.7 450.9h0M1379.0 457.4h0M1380.2 463.7h0M1380.5 471.1h0M1381.1 477.1h0M1382.8 484.6h0M1384.5 490.3h0M1386.7 495.5h0M1386.2 501.1h0M1385.6 507.2h0M1387.0 512.8h0M1388.0 519.6h0M1389.6 524.5h0M1390.6 530.2h0M1391.4 537.2h0M1391.8 542.5h0M1392.0 549.9h0M1394.3 555.2h0M1395.2 561.6h0M1395.8 568.3h0M1397.0 572.6h0M1397.4 580.7h0M1397.4 584.9h0M1398.5 592.2h0M1400.1 599.0h0M1399.1 605.0h0M1400.8 609.7h0M1400.3 618.7h0M1402.8 623.3h0M1402.0 629.2h0M1405.0 635.8h0M1405.6 642.0h0M1404.5 650.8h0M1406.2 657.0h0M1406.7 662.2h0M1407.5 669.1h0M1409.4 675.3h0M1409.3 681.1h0M1410.0 688.4h0M1414.1 695.7h0M1413.7 702.0h0M1415.0 706.9h0M1415.9 716.4h0M1416.2 720.8h0M1419.2 728.9h0M1420.0 734.9h0M1421.4 740.9h0M1420.9 747.5h0M1426.6 753.9h0M1425.3 759.7h0M1428.7 765.9h0M1429.5 771.1h0M1431.6 776.8h0M1431.8 784.4h0M1434.7 789.7h0M1435.0 796.6h0M1435.2 802.4h0M1437.2 810.6h0M1437.6 815.5h0M1439.4 820.3h0M1440.1 827.2h0M1440.6 833.3h0M1097.6 21.4h0M1098.3 29.2h0M1099.0 35.5h0M1099.3 43.0h0M1100.8 48.5h0M1101.2 55.3h0M1103.9 61.2h0M1106.4 66.3h0M1110.5 73.0h0M1116.3 78.1h0M1122.0 84.8h0M1128.8 91.3h0M1132.9 96.7h0M1140.0 103.5h0M1147.3 111.2h0M1150.2 117.3h0M1156.8 123.6h0M1161.0 128.5h0M1166.3 135.3h0M1172.2 139.5h0M1177.1 147.2h0M1181.0 154.0h0M1187.6 159.3h0M1194.9 165.5h0M1200.3 172.0h0M1209.0 179.3h0M1213.2 185.8h0M1218.8 190.5h0M1226.8 198.0h0M1231.9 204.1h0M1240.4 211.4h0M1242.3 215.5h0M1252.5 222.9h0M1259.8 229.6h0M1260.8 236.4h0M1270.2 242.3h0M1278.5 249.2h0M1282.1 254.6h0M1287.7 260.8h0M1291.4 267.3h0M1297.7 273.5h0M1302.7 280.5h0M1305.7 284.9h0M1310.8 291.3h0M1311.6 296.9h0M1317.8 303.5h0M1322.1 311.1h0M1326.6 317.3h0M1329.0 324.1h0M1332.9 328.0h0M1334.1 336.5h0M1336.5 342.9h0M1340.2 348.2h0M1344.2 356.8h0M1347.1 362.6h0M1347.0 369.1h0M1353.2 375.3h0M1354.3 381.2h0M1356.4 387.9h0M1358.1 394.1h0M1361.5 399.2h0M1364.1 405.8h0M1365.9 411.5h0M1365.0 418.5h0M1367.8 425.2h0M1369.8 430.9h0M1370.8 438.4h0M1373.0 443.0h0M1373.8 449.2h0M1374.6 455.6h0M1374.9 460.9h0M1378.0 467.2h0M1374.8 472.6h0M1376.4 479.3h0M1379.5 485.5h0M1377.5 492.5h0M1380.5 497.1h0M1380.5 503.5h0M1382.9 510.7h0M1380.6 518.2h0M1384.2 524.9h0M1384.9 531.5h0M1384.4 537.3h0M1386.8 541.8h0M1386.1 549.6h0M1386.2 554.9h0M1389.9 561.2h0M1388.8 567.5h0M1392.1 574.1h0M1391.2 580.8h0M1394.2 587.8h0M1394.7 593.8h0M1395.5 598.9h0M1396.2 605.3h0M1397.4 613.3h0M1398.9 619.7h0M1400.2 623.8h0M1401.0 631.6h0M1400.8 638.9h0M1401.0 644.8h0M1403.0 650.4h0M1404.2 657.2h0M1402.5 662.4h0M1404.1 668.1h0M1407.3 673.7h0M1407.1 681.7h0M1409.2 687.8h0M1409.3 694.2h0M1410.1 701.4h0M1411.7 707.3h0M1412.5 712.3h0M1413.3 720.9h0M1413.6 726.4h0M1416.2 732.4h0M1415.6 738.7h0M1420.0 744.1h0M1421.9 751.0h0M1424.8 757.5h0M1422.4 765.7h0M1427.0 770.3h0M1429.6 778.4h0M1429.0 785.2h0M1430.4 791.3h0M1433.2 795.7h0M1432.4 801.8h0M1433.3 808.7h0M1435.0 815.5h0M1436.1 821.1h0M1436.1 828.3h0M1437.6 834.4h0M1101.3 22.0h0M1102.8 30.2h0M1098.3 35.9h0M1101.0 41.4h0M1101.4 47.3h0M1101.3 54.1h0M1103.0 61.2h0M1103.5 68.2h0M1108.1 72.6h0M1112.3 79.7h0M1118.0 86.2h0M1125.6 92.7h0M1129.9 99.0h0M1137.0 104.6h0M1141.7 112.2h0M1148.7 118.1h0M1154.9 122.2h0M1159.8 129.3h0M1168.4 135.8h0M1170.7 141.8h0M1178.2 148.9h0M1181.2 153.8h0M1188.1 161.2h0M1195.7 167.8h0M1203.4 175.0h0M1212.6 181.5h0M1218.4 188.0h0M1223.0 192.6h0M1230.4 199.6h0M1237.6 206.5h0M1243.5 212.6h0M1250.2 218.6h0M1254.2 224.5h0M1262.5 230.8h0M1266.9 236.5h0M1272.9 242.8h0M1273.4 249.5h0M1281.5 257.4h0M1286.2 264.1h0M1293.5 271.1h0M1300.2 276.7h0M1303.4 283.5h0M1305.2 288.8h0M1312.8 295.8h0M1315.3 302.9h0M1319.2 307.9h0M1323.5 314.0h0M1327.4 319.8h0M1329.7 326.5h0M1333.9 333.2h0M1336.4 339.2h0M1340.0 344.5h0M1342.4 351.0h0M1343.8 357.9h0M1347.5 364.9h0M1349.3 371.6h0M1351.0 376.0h0M1354.2 383.4h0M1356.6 389.8h0M1359.7 398.5h0M1362.2 403.7h0M1364.1 409.4h0M1367.1 416.9h0M1367.9 420.9h0M1368.3 426.6h0M1369.1 434.0h0M1369.8 439.5h0M1372.0 444.4h0M1373.0 450.3h0M1373.4 457.5h0M1376.2 462.7h0M1377.3 468.9h0M1376.9 474.6h0M1376.1 482.6h0M1379.7 488.1h0M1380.2 496.3h0M1380.0 503.2h0M1380.5 509.8h0M1381.9 513.8h0M1384.4 520.7h0M1386.5 526.4h0M1385.5 533.8h0M1387.9 539.1h0M1388.5 544.7h0M1390.1 553.8h0M1390.0 557.6h0M1394.0 563.6h0M1394.8 569.9h0M1394.9 576.4h0M1397.6 583.7h0M1399.6 589.2h0M1398.6 595.7h0M1400.3 602.9h0M1401.1 609.4h0M1402.2 614.2h0M1403.1 621.8h0M1403.7 627.6h0M1404.5 633.4h0M1405.3 639.1h0M1406.7 645.4h0M1405.6 652.7h0M1407.7 659.4h0M1409.1 665.2h0M1408.8 672.4h0M1410.8 679.9h0M1409.5 685.3h0M1410.4 692.1h0M1409.2 697.5h0M1411.3 704.0h0M1412.2 710.8h0M1414.1 716.5h0M1413.0 721.1h0M1416.1 728.3h0M1415.7 733.8h0M1416.7 740.1h0M1417.6 745.3h0M1420.4 752.3h0M1420.6 759.0h0M1423.8 764.2h0M1424.8 770.6h0M1428.0 777.4h0M1430.6 783.5h0M1430.8 791.0h0M1431.7 796.7h0M1434.2 804.0h0M1435.3 810.7h0M1436.6 816.4h0M1437.7 823.6h0M1439.3 828.7h0M1440.6 834.9h0M1097.2 21.1h0M1100.9 27.1h0M1098.3 33.8h0M1098.7 40.2h0M1099.1 45.9h0M1099.4 53.6h0M1102.7 59.9h0M1105.7 67.7h0M1108.7 72.5h0M1113.5 80.3h0M1117.9 87.4h0M1121.3 93.4h0M1130.6 99.8h0M1137.4 105.7h0M1142.7 112.7h0M1146.8 116.7h0M1153.0 125.6h0M1156.6 131.4h0M1162.1 138.7h0M1169.7 144.7h0M1176.6 151.4h0M1179.7 158.2h0M1184.4 163.5h0M1191.4 169.4h0M1200.7 175.5h0M1206.1 181.9h0M1212.8 188.9h0M1220.3 196.7h0M1227.0 203.1h0M1234.4 210.6h0M1241.6 215.3h0M1249.0 221.5h0M1252.8 227.7h0M1257.5 233.8h0M1265.2 238.3h0M1271.9 246.9h0M1279.5 252.5h0M1284.7 257.6h0M1291.5 263.2h0M1294.1 270.5h0M1298.5 276.1h0M1304.9 282.0h0M1311.0 290.4h0M1311.8 295.9h0M1316.5 301.1h0M1321.4 306.5h0M1323.8 313.2h0M1327.9 319.6h0M1329.6 326.0h0M1331.2 331.5h0M1334.1 338.2h0M1337.3 345.3h0M1338.4 351.0h0M1342.8 357.2h0M1343.7 364.4h0M1346.8 370.3h0M1349.0 377.2h0M1349.8 384.2h0M1353.5 390.5h0M1354.1 395.5h0M1357.5 402.1h0M1359.7 409.5h0M1358.6 416.8h0M1363.2 424.8h0M1365.2 431.1h0M1364.9 436.5h0M1365.5 441.6h0M1365.5 448.9h0M1369.9 456.1h0M1371.5 463.3h0M1373.2 470.3h0M1372.6 476.9h0M1374.0 482.1h0M1374.5 489.5h0M1376.5 497.0h0M1375.6 501.7h0M1378.0 508.8h0M1378.1 514.0h0M1379.5 521.6h0M1381.2 528.7h0M1383.9 534.8h0M1386.4 541.6h0M1387.2 548.5h0M1390.6 555.5h0M1389.5 561.4h0M1389.7 567.0h0M1390.6 573.9h0M1393.4 578.4h0M1393.2 583.3h0M1395.5 591.0h0M1396.4 596.8h0M1397.4 603.4h0M1398.1 611.0h0M1397.3 616.0h0M1401.2 624.0h0M1401.9 630.6h0M1401.2 636.2h0M1401.6 642.9h0M1404.3 648.8h0M1401.6 653.4h0M1402.7 660.4h0M1405.9 666.7h0M1404.9 672.3h0M1405.3 681.5h0M1404.3 686.1h0M1404.8 693.1h0M1407.5 697.8h0M1407.8 703.8h0M1409.1 709.5h0M1410.0 717.0h0M1411.6 723.9h0M1411.7 730.4h0M1413.7 737.4h0M1413.1 743.2h0M1416.6 751.0h0M1418.7 755.9h0M1419.1 762.6h0M1421.6 768.8h0M1420.9 776.6h0M1424.9 782.6h0M1427.8 790.9h0M1429.1 796.0h0M1429.8 802.7h0M1429.9 810.1h0M1433.6 816.6h0M1434.9 821.8h0M1437.7 828.8h0M1436.2 833.7h0M1101.0 21.9h0M1100.8 28.7h0M1102.3 36.7h0M1101.5 42.7h0M1101.4 48.3h0M1101.8 54.4h0M1105.5 61.3h0M1107.0 66.7h0M1111.4 73.7h0M1111.1 78.9h0M1118.6 85.1h0M1124.8 92.5h0M1130.4 98.7h0M1135.8 103.2h0M1144.1 109.8h0M1147.5 115.4h0M1153.5 123.4h0M1160.7 129.4h0M1164.1 135.5h0M1170.1 142.7h0M1176.1 148.3h0M1177.5 154.9h0M1182.8 160.4h0M1189.5 167.6h0M1196.0 173.1h0M1205.0 179.5h0M1212.5 186.3h0M1213.7 192.9h0M1220.9 197.1h0M1228.7 204.7h0M1235.2 211.8h0M1241.2 218.3h0M1248.1 224.0h0M1251.6 232.1h0M1262.3 238.0h0M1265.5 244.7h0M1271.8 249.8h0M1278.0 256.4h0M1285.7 263.7h0M1293.1 269.9h0M1297.3 276.2h0M1299.4 282.2h0M1306.7 289.7h0M1310.1 295.7h0M1314.1 301.3h0M1319.3 308.5h0M1320.1 314.0h0M1326.6 319.8h0M1330.1 326.5h0M1332.5 332.7h0M1334.9 337.7h0M1338.2 343.7h0M1339.0 350.3h0M1342.8 356.6h0M1346.7 363.0h0M1349.1 369.1h0M1351.0 374.7h0M1353.8 379.8h0M1357.0 386.9h0M1360.3 391.2h0M1360.3 399.2h0M1363.7 406.7h0M1366.1 411.3h0M1369.3 418.3h0M1369.4 422.8h0M1370.7 430.0h0M1370.2 434.6h0M1373.0 439.7h0M1374.6 448.5h0M1376.3 454.5h0M1378.6 460.4h0M1378.9 467.5h0M1379.4 473.8h0M1381.2 480.5h0M1380.1 486.0h0M1384.0 492.2h0M1383.0 499.2h0M1382.6 505.8h0M1383.5 511.8h0M1385.3 517.5h0M1385.3 525.4h0M1386.0 530.7h0M1386.1 539.1h0M1385.1 544.3h0M1387.7 551.7h0M1388.2 559.3h0M1390.1 564.6h0M1390.5 570.3h0M1392.6 576.9h0M1392.8 582.5h0M1393.1 588.6h0M1395.1 594.5h0M1394.7 602.3h0M1396.4 607.4h0M1395.7 614.8h0M1397.7 622.2h0M1398.2 626.0h0M1399.6 633.6h0M1400.8 637.9h0M1401.8 644.9h0M1403.3 652.1h0M1403.7 658.9h0M1406.4 665.2h0M1407.0 671.0h0M1406.5 676.3h0M1406.5 682.5h0M1409.2 690.5h0M1408.6 698.0h0M1411.2 702.1h0M1413.4 710.8h0M1412.5 716.6h0M1414.2 723.6h0M1415.6 731.1h0M1419.4 737.7h0M1419.0 743.8h0M1422.7 750.8h0M1424.1 757.0h0M1425.2 762.4h0M1426.9 768.5h0M1428.1 774.4h0M1431.2 781.6h0M1431.9 789.2h0M1433.9 795.7h0M1435.3 802.8h0M1435.1 810.8h0M1437.4 816.0h0M1437.1 820.7h0M1439.1 828.2h0M1440.2 833.8h0"/>
<polyline points="1099.58,29.72 1101.69,50.17 1109.9,70.62 1128.98,91.07 1149.52,111.52 1166.49,131.97 1184.42,152.42 1206.52,172.87 1226.1,193.32 1247.3,213.77 1266.59,234.22 1285.97,254.66 1301.13,275.11 1313.81,295.56 1325.29,316.01 1333.85,336.46 1342.51,356.91 1350.32,377.36 1358.53,397.81 1364.92,418.26 1369.4,438.71 1374.89,459.15 1378.21,479.6 1381.18,500.05 1384.3,520.5 1387.07,540.95 1390.6,561.4 1394.22,581.85 1397.19,602.3 1400.32,622.75 1403.19,643.2 1406.11,663.65 1408.02,684.09 1412.1,704.54 1415.02,724.99 1420.1,745.44 1425.39,765.89 1430.22,786.34 1433.3,806.79 1437.42,827.24" stroke="#0000ff" stroke-width="2.6" fill="none" stroke-linejoin="round" stroke-linecap="square"/>
<g fill="#0000ff"><circle cx="1099.58" cy="29.72" r="6.08"/><circle cx="1101.69" cy="50.17" r="6.08"/><circle cx="1109.9" cy="70.62" r="6.08"/><circle cx="1128.98" cy="91.07" r="6.08"/><circle cx="1149.52" cy="111.52" r="6.08"/><circle cx="1166.49" cy="131.97" r="6.08"/><circle cx="1184.42" cy="152.42" r="6.08"/><circle cx="1206.52" cy="172.87" r="6.08"/><circle cx="1226.1" cy="193.32" r="6.08"/><circle cx="1247.3" cy="213.77" r="6.08"/><circle cx="1266.59" cy="234.22" r="6.08"/><circle cx="1285.97" cy="254.66" r="6.08"/><circle cx="1301.13" cy="275.11" r="6.08"/><circle cx="1313.81" cy="295.56" r="6.08"/><circle cx="1325.29" cy="316.01" r="6.08"/><circle cx="1333.85" cy="336.46" r="6.08"/><circle cx="1342.51" cy="356.91" r="6.08"/><circle cx="1350.32" cy="377.36" r="6.08"/><circle cx="1358.53" cy="397.81" r="6.08"/><circle cx="1364.92" cy="418.26" r="6.08"/><circle cx="1369.4" cy="438.71" r="6.08"/><circle cx="1374.89" cy="459.15" r="6.08"/><circle cx="1378.21" cy="479.6" r="6.08"/><circle cx="1381.18" cy="500.05" r="6.08"/><circle cx="1384.3" cy="520.5" r="6.08"/><circle cx="1387.07" cy="540.95" r="6.08"/><circle cx="1390.6" cy="561.4" r="6.08"/><circle cx="1394.22" cy="581.85" r="6.08"/><circle cx="1397.19" cy="602.3" r="6.08"/><circle cx="1400.32" cy="622.75" r="6.08"/><circle cx="1403.19" cy="643.2" r="6.08"/><circle cx="1406.11" cy="663.65" r="6.08"/><circle cx="1408.02" cy="684.09" r="6.08"/><circle cx="1412.1" cy="704.54" r="6.08"/><circle cx="1415.02" cy="724.99" r="6.08"/><circle cx="1420.1" cy="745.44" r="6.08"/><circle cx="1425.39" cy="765.89" r="6.08"/><circle cx="1430.22" cy="786.34" r="6.08"/><circle cx="1433.3" cy="806.79" r="6.08"/><circle cx="1437.42" cy="827.24" r="6.08"/></g>
<polyline points="1109.04,19.5 1109.54,23.59 1110.05,27.68 1110.55,31.77 1111.06,35.86 1111.56,39.95 1112.06,44.04 1112.57,50.17 1113.02,60.4 1115.28,70.62 1132.3,80.85 1145.49,91.07 1155.41,101.3 1166.49,111.52 1177.11,121.75 1197.1,142.19 1215.48,162.64 1233.1,183.09 1248.41,203.54 1263.31,223.99 1302.39,275.11 1324.39,326.24 1363.26,428.48 1390.2,530.73 1412.4,632.97 1431.38,735.22 1448.15,837.46" stroke="#ff0000" stroke-width="2.6" fill="none" stroke-linejoin="round" stroke-linecap="square"/>
<g fill="#ff0000"><circle cx="1109.04" cy="19.5" r="6.08"/><circle cx="1109.54" cy="23.59" r="6.08"/><circle cx="1110.05" cy="27.68" r="6.08"/><circle cx="1110.55" cy="31.77" r="6.08"/><circle cx="1111.06" cy="35.86" r="6.08"/><circle cx="1111.56" cy="39.95" r="6.08"/><circle cx="1112.06" cy="44.04" r="6.08"/><circle cx="1112.57" cy="50.17" r="6.08"/><circle cx="1113.02" cy="60.4" r="6.08"/><circle cx="1115.28" cy="70.62" r="6.08"/><circle cx="1132.3" cy="80.85" r="6.08"/><circle cx="1145.49" cy="91.07" r="6.08"/><circle cx="1155.41" cy="101.3" r="6.08"/><circle cx="1166.49" cy="111.52" r="6.08"/><circle cx="1177.11" cy="121.75" r="6.08"/><circle cx="1197.1" cy="142.19" r="6.08"/><circle cx="1215.48" cy="162.64" r="6.08"/><circle cx="1233.1" cy="183.09" r="6.08"/><circle cx="1248.41" cy="203.54" r="6.08"/><circle cx="1263.31" cy="223.99" r="6.08"/><circle cx="1302.39" cy="275.11" r="6.08"/><circle cx="1324.39" cy="326.24" r="6.08"/><circle cx="1363.26" cy="428.48" r="6.08"/><circle cx="1390.2" cy="530.73" r="6.08"/><circle cx="1412.4" cy="632.97" r="6.08"/><circle cx="1431.38" cy="735.22" r="6.08"/><circle cx="1448.15" cy="837.46" r="6.08"/></g>
</g>
<rect x="1072.5" y="19.5" width="402" height="817.2" fill="none" stroke="#000" stroke-width="1.39" stroke-linejoin="miter"/>
<path d="M1072.5 19.5h-6.08M1072.5 70.5h-6.08M1072.5 121.5h-6.08M1072.5 172.5h-6.08M1072.5 223.5h-6.08M1072.5 275.5h-6.08M1072.5 326.5h-6.08M1072.5 377.5h-6.08M1072.5 428.5h-6.08M1072.5 479.5h-6.08M1072.5 530.5h-6.08M1072.5 581.5h-6.08M1072.5 632.5h-6.08M1072.5 684.5h-6.08M1072.5 735.5h-6.08M1072.5 786.5h-6.08M1110.5 836.7v6.08M1211.5 836.7v6.08M1311.5 836.7v6.08M1412.5 836.7v6.08" stroke="#000" stroke-width="1.39" fill="none"/>
<g font-family="'DejaVu Sans', 'Liberation Sans', sans-serif" font-size="17.36px" fill="#000"><text x="1110.3" y="862.8" text-anchor="middle">1022</text><text x="1211" y="862.8" text-anchor="middle">1024</text><text x="1311.7" y="862.8" text-anchor="middle">1026</text><text x="1412.4" y="862.8" text-anchor="middle">1028</text></g>
<g font-family="'DejaVu Sans', 'Liberation Sans', sans-serif" font-size="22.57px" font-weight="bold" fill="#000">
<text transform="translate(30.5 428.1) rotate(-90)" text-anchor="middle">Depth (m)</text>
<text x="288.2" y="893.1" text-anchor="middle">Temperature (<tspan font-weight="normal" font-style="italic" font-size="15.8px" dy="-8.7">o</tspan><tspan font-weight="normal" font-style="italic" dy="8.7" dx="1">C</tspan>)</text>
<text x="779.8" y="891.9" text-anchor="middle">Salinity</text>
<text x="1272.8" y="891.9" text-anchor="middle">Density (kg m-3)</text>
</g>
<text x="789.2" y="917.8" text-anchor="middle" font-family="'DejaVu Sans', 'Liberation Sans', sans-serif" font-size="17.36px" font-style="italic" fill="#000" style="white-space:pre">Ocean Heat Content (kJ/cm^2) - Glider: 114.4757,  RTOFS: 98.9734,</text>
<g font-family="'DejaVu Sans', 'Liberation Sans', sans-serif" font-size="22.57px" font-weight="bold" fill="#000" style="white-space:pre">
<text x="1524" y="36.5">Comparison Date: 2024-09-17</text>
<text x="1524" y="88.9">Glider: SG663</text>
<text x="1524" y="115.7">Profiles: 6</text>
<text x="1524" y="142.5">First: 2024-09-17 00:42:52</text>
<text x="1524" y="169.3">Last: 2024-09-17 12:26:58</text>
<text x="1524" y="196.1">Method: Nearest-Neighbor</text>
</g>
<defs><clipPath id="mapc"><rect x="1564.2" y="313.4" width="401.8" height="228.4"/></clipPath><clipPath id="mapl"><rect x="1563.2" y="313.4" width="402.8" height="227.9"/></clipPath></defs>
<g clip-path="url(#mapc)">
<rect x="1564.2" y="313.4" width="401.8" height="228.4" fill="#6495ed"/>
<path d="M1564.2 313.4 L1966.0 313.4 L1966.0 320.0 L1564.2 320.0Z" fill="#97b6e1"/>
<path d="M1564.2 320.0 L1588.4 320.0 L1589.0 326.0 L1589.5 334.0 L1590.0 340.0 L1591.5 346.0 L1564.2 348.0ZM1592.0 349.0 L1595.0 353.0 L1594.0 360.0 L1590.0 366.0 L1588.0 375.0 L1585.0 386.0 L1582.0 398.0 L1579.0 410.0 L1575.0 419.0 L1570.0 423.0 L1574.5 410.3 L1578.4 394.9 L1582.2 382.4 L1585.1 368.9 L1590.9 358.3ZM1590.8 419.5 L1605.0 416.5 L1620.0 413.0 L1632.0 410.0 L1650.0 407.5 L1665.0 406.5 L1678.0 407.0 L1683.4 411.0 L1679.0 417.0 L1673.0 425.0 L1669.0 434.0 L1666.5 444.0 L1662.8 454.1 L1657.7 464.4 L1651.0 476.0 L1644.0 486.0 L1638.5 493.0 L1634.0 488.0 L1632.5 470.0 L1634.6 455.0 L1636.0 443.0 L1634.0 433.0 L1626.0 424.0 L1610.0 421.5ZM1690.0 400.0 L1700.0 399.5 L1712.0 402.0 L1722.0 407.0 L1727.0 412.0 L1718.0 414.5 L1705.0 413.5 L1695.0 411.0 L1689.0 406.0ZM1693.0 320.0 L1744.0 320.0 L1745.0 326.0 L1742.0 333.0 L1738.0 340.0 L1731.0 342.5 L1720.0 343.0 L1712.0 341.0 L1706.0 337.5 L1699.0 334.8 L1693.0 333.8 L1690.0 328.0ZM1747.0 334.0 L1756.0 331.0 L1768.0 333.0 L1772.0 338.0 L1764.0 343.0 L1752.0 342.0ZM1760.0 337.0 L1777.0 340.0 L1790.0 346.0 L1800.0 352.0 L1806.0 360.0 L1800.0 362.0 L1788.0 356.0 L1775.0 352.0 L1764.0 352.0 L1760.0 346.0ZM1810.0 356.0 L1822.0 362.0 L1829.0 370.0 L1824.0 372.0 L1814.0 366.0ZM1639.0 336.0 L1646.0 331.9 L1655.0 331.9 L1658.6 333.3 L1657.0 337.0 L1668.0 340.5 L1677.0 341.5 L1672.0 345.0 L1660.0 347.0 L1650.0 349.0 L1641.0 349.5 L1636.0 344.0ZM1684.0 346.0 L1696.0 347.0 L1699.3 350.2 L1701.2 356.0 L1707.0 358.5 L1714.0 359.8 L1717.3 362.4 L1712.0 368.0 L1706.0 368.0 L1697.0 362.0 L1688.0 356.0 L1683.0 350.0ZM1564.2 458.5 L1574.8 459.2 L1581.3 461.1 L1584.5 465.0 L1590.9 471.4 L1596.0 478.0 L1600.0 483.0 L1603.4 488.0 L1604.8 493.8 L1606.0 498.0 L1607.7 502.5 L1614.9 505.4 L1620.7 508.3 L1627.9 514.1 L1635.2 519.8 L1643.8 525.6 L1652.5 528.5 L1658.3 537.2 L1660.0 541.8 L1652.0 541.8 L1645.0 533.0 L1632.0 524.0 L1618.0 514.0 L1606.0 509.0 L1600.0 500.0 L1597.0 490.0 L1589.0 478.0 L1579.0 468.0 L1570.0 464.5 L1564.2 464.0ZM1684.3 517.5 L1690.1 519.8 L1698.7 524.2 L1704.5 532.9 L1711.0 541.8 L1680.0 541.8 L1680.5 530.0 L1681.4 522.7ZM1733.0 512.0 L1737.0 500.0 L1742.0 490.0 L1750.0 485.0 L1762.0 480.0 L1772.0 476.0 L1781.0 469.0 L1790.0 467.0 L1800.0 468.0 L1808.0 471.0 L1818.0 478.0 L1830.0 482.0 L1842.0 490.0 L1858.0 490.0 L1875.0 494.0 L1890.0 489.0 L1905.0 489.0 L1922.0 488.0 L1940.0 491.0 L1955.0 498.0 L1966.0 506.0 L1966.0 541.8 L1961.0 541.8 L1950.8 530.0 L1940.7 522.7 L1930.5 519.8 L1926.2 511.2 L1919.0 503.9 L1911.8 502.5 L1904.5 496.7 L1901.6 493.8 L1890.1 493.8 L1882.8 496.7 L1874.2 501.1 L1864.1 499.6 L1858.3 495.3 L1840.9 496.7 L1833.7 495.3 L1829.4 486.6 L1813.5 482.3 L1803.4 485.2 L1793.2 489.5 L1786.0 482.0 L1777.3 477.9 L1768.7 482.3 L1755.1 485.2 L1743.6 490.9 L1737.8 499.6ZM1896.0 392.0 L1905.0 396.0 L1912.5 402.0 L1919.0 411.0 L1923.5 421.0 L1927.0 434.0 L1927.5 450.0 L1925.0 463.0 L1921.5 475.0 L1919.5 475.0 L1922.5 463.0 L1925.0 450.0 L1924.5 436.0 L1921.0 424.0 L1915.0 413.0 L1906.0 404.0 L1897.0 396.0ZM1842.0 387.0 L1852.0 387.5 L1866.0 387.0 L1880.0 384.0 L1888.0 386.0 L1886.0 391.0 L1875.0 395.0 L1860.0 398.5 L1846.0 398.5 L1840.0 394.0ZM1800.0 362.0 L1812.0 366.0 L1824.0 372.0 L1830.0 380.0 L1824.0 379.0 L1812.0 373.0 L1802.0 368.0Z" fill="#97b6e1" stroke="#97b6e1" stroke-width="7" stroke-linejoin="round"/>
<path d="M1555.0 349.0 L1571.6 346.7 L1581.3 347.2 L1588.0 347.2 L1591.9 349.6 L1592.8 353.5 L1590.9 358.3 L1587.0 363.1 L1585.1 368.9 L1584.2 375.6 L1582.2 382.4 L1580.3 388.2 L1578.4 394.9 L1576.5 402.6 L1574.5 410.3 L1571.6 417.1 L1567.8 421.9 L1555.0 423.4ZM1555.0 424.6 L1571.6 425.8 L1581.3 424.8 L1590.9 425.8 L1603.8 423.9 L1616.6 423.9 L1626.2 426.4 L1631.4 431.6 L1637.8 436.1 L1637.8 442.5 L1635.9 448.9 L1634.6 458.5 L1633.3 468.2 L1632.0 480.0 L1631.5 486.0 L1633.0 490.9 L1638.0 499.6 L1642.0 504.0 L1646.7 508.3 L1652.0 512.0 L1658.3 515.5 L1663.0 517.0 L1668.4 517.2 L1673.0 515.5 L1678.5 512.6 L1682.0 510.0 L1685.7 508.3 L1691.0 508.3 L1697.3 509.7 L1702.0 512.0 L1707.4 515.5 L1712.0 518.5 L1716.1 521.3 L1720.4 524.2 L1723.5 522.5 L1726.2 519.8 L1730.0 515.0 L1733.4 511.2 L1735.5 505.0 L1737.8 499.6 L1740.5 494.0 L1743.6 490.9 L1749.3 488.0 L1755.1 485.2 L1762.3 483.7 L1768.7 482.3 L1773.0 480.0 L1777.3 477.9 L1781.7 473.6 L1785.0 471.5 L1788.9 470.7 L1793.0 471.5 L1794.7 473.6 L1793.2 477.5 L1789.0 480.0 L1786.0 482.0 L1786.0 486.0 L1788.9 490.5 L1793.2 489.5 L1798.0 487.0 L1803.4 485.2 L1806.2 481.0 L1807.2 476.0 L1809.5 474.5 L1812.0 475.5 L1813.0 480.0 L1813.5 482.3 L1820.7 483.0 L1825.0 484.5 L1829.4 486.6 L1831.5 490.0 L1833.7 495.3 L1840.9 496.7 L1850.0 496.0 L1858.3 495.3 L1864.1 499.6 L1870.0 501.0 L1874.2 501.1 L1878.0 499.5 L1882.8 496.7 L1890.1 493.8 L1901.6 493.8 L1904.5 496.7 L1908.0 500.0 L1911.8 502.5 L1919.0 503.9 L1923.0 507.0 L1926.2 511.2 L1928.5 516.0 L1930.5 519.8 L1935.0 521.5 L1940.7 522.7 L1946.0 526.0 L1950.8 530.0 L1955.0 535.0 L1959.5 540.1 L1968.0 550.0 L1717.0 550.0 L1704.5 532.9 L1698.7 524.2 L1690.1 519.8 L1684.3 517.5 L1681.4 522.7 L1680.5 530.0 L1678.0 535.0 L1672.7 538.6 L1667.0 535.7 L1664.1 530.0 L1661.0 534.0 L1658.3 537.2 L1655.0 533.0 L1652.5 528.5 L1648.0 526.5 L1643.8 525.6 L1639.0 522.5 L1635.2 519.8 L1631.0 516.5 L1627.9 514.1 L1624.0 511.0 L1620.7 508.3 L1614.9 505.4 L1610.0 504.0 L1607.7 502.5 L1606.0 498.0 L1604.8 493.8 L1603.4 488.0 L1600.0 483.0 L1596.0 478.0 L1590.9 471.4 L1584.5 465.0 L1581.3 461.1 L1574.8 459.2 L1555.0 458.3ZM1616.7 343.0 L1620.0 339.5 L1623.5 336.0 L1630.2 331.0 L1637.0 328.3 L1643.7 327.0 L1650.5 325.2 L1657.2 324.7 L1664.0 325.2 L1668.5 324.3 L1675.2 325.9 L1680.0 328.2 L1686.4 332.2 L1692.8 333.8 L1701.2 335.4 L1708.9 339.3 L1715.3 345.7 L1721.8 349.5 L1728.8 352.8 L1735.9 354.7 L1736.5 357.9 L1744.2 359.2 L1749.4 361.8 L1753.9 365.0 L1755.8 366.3 L1750.7 368.2 L1744.2 370.1 L1734.6 369.5 L1725.0 369.5 L1716.0 370.1 L1710.8 370.7 L1713.4 366.3 L1717.3 362.4 L1714.0 359.8 L1707.0 358.5 L1701.2 356.0 L1699.3 350.2 L1696.1 347.0 L1689.6 346.3 L1683.2 345.1 L1677.4 340.9 L1668.5 340.0 L1661.7 339.1 L1655.0 336.9 L1657.2 335.1 L1658.6 333.3 L1655.0 331.9 L1646.0 331.9 L1641.5 334.6 L1637.0 337.3 L1630.2 339.1 L1628.0 340.9 L1624.8 342.3 L1621.2 343.2ZM1765.1 373.0 L1768.0 371.0 L1772.9 369.1 L1779.0 369.5 L1785.7 370.4 L1792.0 369.5 L1798.6 369.8 L1805.0 371.5 L1811.4 374.3 L1815.3 378.1 L1821.7 380.7 L1826.0 382.5 L1829.4 384.5 L1832.0 388.4 L1830.0 391.5 L1828.1 393.5 L1823.0 392.0 L1817.8 391.0 L1813.0 390.5 L1808.8 391.0 L1801.1 393.5 L1797.0 395.0 L1794.7 397.4 L1792.5 400.0 L1790.8 402.5 L1788.5 398.0 L1785.7 394.8 L1781.0 393.5 L1775.4 392.3 L1768.0 392.0 L1760.0 392.3 L1755.0 391.5 L1752.4 389.6 L1755.0 387.0 L1760.0 388.4 L1768.0 387.8 L1775.4 387.1 L1778.0 384.5 L1776.5 382.0 L1774.1 379.4 L1770.0 376.5 L1767.7 374.3ZM1701.4 391.0 L1707.8 389.0 L1713.0 389.5 L1718.0 391.0 L1723.0 392.5 L1727.1 394.8 L1729.6 398.0 L1725.0 398.5 L1720.6 398.7 L1714.2 400.0 L1710.0 399.0 L1707.8 397.4 L1704.0 395.5 L1702.2 393.2ZM1846.1 390.3 L1855.0 389.5 L1865.5 389.8 L1867.5 393.0 L1864.5 396.5 L1855.0 397.5 L1847.0 397.2 L1845.5 394.0ZM1920.4 493.5 L1928.4 492.4 L1928.6 499.0 L1925.0 501.1 L1921.0 500.5 L1922.5 497.0ZM1642.5 344.5 L1645.5 344.0 L1646.8 346.5 L1645.0 348.3 L1642.5 347.5ZM1762.0 350.0 L1767.0 347.8 L1772.5 348.5 L1772.0 352.0 L1766.0 355.5 L1762.0 354.5Z" fill="none" stroke="#97b6e1" stroke-width="11" stroke-linejoin="round"/>
<path d="M1564.2 320.0 L1588.4 320.0 L1589.0 326.0 L1589.5 334.0 L1590.0 340.0 L1591.5 346.0 L1564.2 348.0ZM1592.0 349.0 L1595.0 353.0 L1594.0 360.0 L1590.0 366.0 L1588.0 375.0 L1585.0 386.0 L1582.0 398.0 L1579.0 410.0 L1575.0 419.0 L1570.0 423.0 L1574.5 410.3 L1578.4 394.9 L1582.2 382.4 L1585.1 368.9 L1590.9 358.3ZM1590.8 419.5 L1605.0 416.5 L1620.0 413.0 L1632.0 410.0 L1650.0 407.5 L1665.0 406.5 L1678.0 407.0 L1683.4 411.0 L1679.0 417.0 L1673.0 425.0 L1669.0 434.0 L1666.5 444.0 L1662.8 454.1 L1657.7 464.4 L1651.0 476.0 L1644.0 486.0 L1638.5 493.0 L1634.0 488.0 L1632.5 470.0 L1634.6 455.0 L1636.0 443.0 L1634.0 433.0 L1626.0 424.0 L1610.0 421.5ZM1690.0 400.0 L1700.0 399.5 L1712.0 402.0 L1722.0 407.0 L1727.0 412.0 L1718.0 414.5 L1705.0 413.5 L1695.0 411.0 L1689.0 406.0ZM1693.0 320.0 L1744.0 320.0 L1745.0 326.0 L1742.0 333.0 L1738.0 340.0 L1731.0 342.5 L1720.0 343.0 L1712.0 341.0 L1706.0 337.5 L1699.0 334.8 L1693.0 333.8 L1690.0 328.0ZM1747.0 334.0 L1756.0 331.0 L1768.0 333.0 L1772.0 338.0 L1764.0 343.0 L1752.0 342.0ZM1760.0 337.0 L1777.0 340.0 L1790.0 346.0 L1800.0 352.0 L1806.0 360.0 L1800.0 362.0 L1788.0 356.0 L1775.0 352.0 L1764.0 352.0 L1760.0 346.0ZM1810.0 356.0 L1822.0 362.0 L1829.0 370.0 L1824.0 372.0 L1814.0 366.0ZM1639.0 336.0 L1646.0 331.9 L1655.0 331.9 L1658.6 333.3 L1657.0 337.0 L1668.0 340.5 L1677.0 341.5 L1672.0 345.0 L1660.0 347.0 L1650.0 349.0 L1641.0 349.5 L1636.0 344.0ZM1684.0 346.0 L1696.0 347.0 L1699.3 350.2 L1701.2 356.0 L1707.0 358.5 L1714.0 359.8 L1717.3 362.4 L1712.0 368.0 L1706.0 368.0 L1697.0 362.0 L1688.0 356.0 L1683.0 350.0ZM1564.2 458.5 L1574.8 459.2 L1581.3 461.1 L1584.5 465.0 L1590.9 471.4 L1596.0 478.0 L1600.0 483.0 L1603.4 488.0 L1604.8 493.8 L1606.0 498.0 L1607.7 502.5 L1614.9 505.4 L1620.7 508.3 L1627.9 514.1 L1635.2 519.8 L1643.8 525.6 L1652.5 528.5 L1658.3 537.2 L1660.0 541.8 L1652.0 541.8 L1645.0 533.0 L1632.0 524.0 L1618.0 514.0 L1606.0 509.0 L1600.0 500.0 L1597.0 490.0 L1589.0 478.0 L1579.0 468.0 L1570.0 464.5 L1564.2 464.0ZM1684.3 517.5 L1690.1 519.8 L1698.7 524.2 L1704.5 532.9 L1711.0 541.8 L1680.0 541.8 L1680.5 530.0 L1681.4 522.7ZM1733.0 512.0 L1737.0 500.0 L1742.0 490.0 L1750.0 485.0 L1762.0 480.0 L1772.0 476.0 L1781.0 469.0 L1790.0 467.0 L1800.0 468.0 L1808.0 471.0 L1818.0 478.0 L1830.0 482.0 L1842.0 490.0 L1858.0 490.0 L1875.0 494.0 L1890.0 489.0 L1905.0 489.0 L1922.0 488.0 L1940.0 491.0 L1955.0 498.0 L1966.0 506.0 L1966.0 541.8 L1961.0 541.8 L1950.8 530.0 L1940.7 522.7 L1930.5 519.8 L1926.2 511.2 L1919.0 503.9 L1911.8 502.5 L1904.5 496.7 L1901.6 493.8 L1890.1 493.8 L1882.8 496.7 L1874.2 501.1 L1864.1 499.6 L1858.3 495.3 L1840.9 496.7 L1833.7 495.3 L1829.4 486.6 L1813.5 482.3 L1803.4 485.2 L1793.2 489.5 L1786.0 482.0 L1777.3 477.9 L1768.7 482.3 L1755.1 485.2 L1743.6 490.9 L1737.8 499.6ZM1896.0 392.0 L1905.0 396.0 L1912.5 402.0 L1919.0 411.0 L1923.5 421.0 L1927.0 434.0 L1927.5 450.0 L1925.0 463.0 L1921.5 475.0 L1919.5 475.0 L1922.5 463.0 L1925.0 450.0 L1924.5 436.0 L1921.0 424.0 L1915.0 413.0 L1906.0 404.0 L1897.0 396.0ZM1842.0 387.0 L1852.0 387.5 L1866.0 387.0 L1880.0 384.0 L1888.0 386.0 L1886.0 391.0 L1875.0 395.0 L1860.0 398.5 L1846.0 398.5 L1840.0 394.0ZM1800.0 362.0 L1812.0 366.0 L1824.0 372.0 L1830.0 380.0 L1824.0 379.0 L1812.0 373.0 L1802.0 368.0Z" fill="#b0c4de"/>
<path d="M1555.0 349.0 L1571.6 346.7 L1581.3 347.2 L1588.0 347.2 L1591.9 349.6 L1592.8 353.5 L1590.9 358.3 L1587.0 363.1 L1585.1 368.9 L1584.2 375.6 L1582.2 382.4 L1580.3 388.2 L1578.4 394.9 L1576.5 402.6 L1574.5 410.3 L1571.6 417.1 L1567.8 421.9 L1555.0 423.4ZM1555.0 424.6 L1571.6 425.8 L1581.3 424.8 L1590.9 425.8 L1603.8 423.9 L1616.6 423.9 L1626.2 426.4 L1631.4 431.6 L1637.8 436.1 L1637.8 442.5 L1635.9 448.9 L1634.6 458.5 L1633.3 468.2 L1632.0 480.0 L1631.5 486.0 L1633.0 490.9 L1638.0 499.6 L1642.0 504.0 L1646.7 508.3 L1652.0 512.0 L1658.3 515.5 L1663.0 517.0 L1668.4 517.2 L1673.0 515.5 L1678.5 512.6 L1682.0 510.0 L1685.7 508.3 L1691.0 508.3 L1697.3 509.7 L1702.0 512.0 L1707.4 515.5 L1712.0 518.5 L1716.1 521.3 L1720.4 524.2 L1723.5 522.5 L1726.2 519.8 L1730.0 515.0 L1733.4 511.2 L1735.5 505.0 L1737.8 499.6 L1740.5 494.0 L1743.6 490.9 L1749.3 488.0 L1755.1 485.2 L1762.3 483.7 L1768.7 482.3 L1773.0 480.0 L1777.3 477.9 L1781.7 473.6 L1785.0 471.5 L1788.9 470.7 L1793.0 471.5 L1794.7 473.6 L1793.2 477.5 L1789.0 480.0 L1786.0 482.0 L1786.0 486.0 L1788.9 490.5 L1793.2 489.5 L1798.0 487.0 L1803.4 485.2 L1806.2 481.0 L1807.2 476.0 L1809.5 474.5 L1812.0 475.5 L1813.0 480.0 L1813.5 482.3 L1820.7 483.0 L1825.0 484.5 L1829.4 486.6 L1831.5 490.0 L1833.7 495.3 L1840.9 496.7 L1850.0 496.0 L1858.3 495.3 L1864.1 499.6 L1870.0 501.0 L1874.2 501.1 L1878.0 499.5 L1882.8 496.7 L1890.1 493.8 L1901.6 493.8 L1904.5 496.7 L1908.0 500.0 L1911.8 502.5 L1919.0 503.9 L1923.0 507.0 L1926.2 511.2 L1928.5 516.0 L1930.5 519.8 L1935.0 521.5 L1940.7 522.7 L1946.0 526.0 L1950.8 530.0 L1955.0 535.0 L1959.5 540.1 L1968.0 550.0 L1717.0 550.0 L1704.5 532.9 L1698.7 524.2 L1690.1 519.8 L1684.3 517.5 L1681.4 522.7 L1680.5 530.0 L1678.0 535.0 L1672.7 538.6 L1667.0 535.7 L1664.1 530.0 L1661.0 534.0 L1658.3 537.2 L1655.0 533.0 L1652.5 528.5 L1648.0 526.5 L1643.8 525.6 L1639.0 522.5 L1635.2 519.8 L1631.0 516.5 L1627.9 514.1 L1624.0 511.0 L1620.7 508.3 L1614.9 505.4 L1610.0 504.0 L1607.7 502.5 L1606.0 498.0 L1604.8 493.8 L1603.4 488.0 L1600.0 483.0 L1596.0 478.0 L1590.9 471.4 L1584.5 465.0 L1581.3 461.1 L1574.8 459.2 L1555.0 458.3ZM1616.7 343.0 L1620.0 339.5 L1623.5 336.0 L1630.2 331.0 L1637.0 328.3 L1643.7 327.0 L1650.5 325.2 L1657.2 324.7 L1664.0 325.2 L1668.5 324.3 L1675.2 325.9 L1680.0 328.2 L1686.4 332.2 L1692.8 333.8 L1701.2 335.4 L1708.9 339.3 L1715.3 345.7 L1721.8 349.5 L1728.8 352.8 L1735.9 354.7 L1736.5 357.9 L1744.2 359.2 L1749.4 361.8 L1753.9 365.0 L1755.8 366.3 L1750.7 368.2 L1744.2 370.1 L1734.6 369.5 L1725.0 369.5 L1716.0 370.1 L1710.8 370.7 L1713.4 366.3 L1717.3 362.4 L1714.0 359.8 L1707.0 358.5 L1701.2 356.0 L1699.3 350.2 L1696.1 347.0 L1689.6 346.3 L1683.2 345.1 L1677.4 340.9 L1668.5 340.0 L1661.7 339.1 L1655.0 336.9 L1657.2 335.1 L1658.6 333.3 L1655.0 331.9 L1646.0 331.9 L1641.5 334.6 L1637.0 337.3 L1630.2 339.1 L1628.0 340.9 L1624.8 342.3 L1621.2 343.2ZM1765.1 373.0 L1768.0 371.0 L1772.9 369.1 L1779.0 369.5 L1785.7 370.4 L1792.0 369.5 L1798.6 369.8 L1805.0 371.5 L1811.4 374.3 L1815.3 378.1 L1821.7 380.7 L1826.0 382.5 L1829.4 384.5 L1832.0 388.4 L1830.0 391.5 L1828.1 393.5 L1823.0 392.0 L1817.8 391.0 L1813.0 390.5 L1808.8 391.0 L1801.1 393.5 L1797.0 395.0 L1794.7 397.4 L1792.5 400.0 L1790.8 402.5 L1788.5 398.0 L1785.7 394.8 L1781.0 393.5 L1775.4 392.3 L1768.0 392.0 L1760.0 392.3 L1755.0 391.5 L1752.4 389.6 L1755.0 387.0 L1760.0 388.4 L1768.0 387.8 L1775.4 387.1 L1778.0 384.5 L1776.5 382.0 L1774.1 379.4 L1770.0 376.5 L1767.7 374.3ZM1701.4 391.0 L1707.8 389.0 L1713.0 389.5 L1718.0 391.0 L1723.0 392.5 L1727.1 394.8 L1729.6 398.0 L1725.0 398.5 L1720.6 398.7 L1714.2 400.0 L1710.0 399.0 L1707.8 397.4 L1704.0 395.5 L1702.2 393.2ZM1846.1 390.3 L1855.0 389.5 L1865.5 389.8 L1867.5 393.0 L1864.5 396.5 L1855.0 397.5 L1847.0 397.2 L1845.5 394.0ZM1920.4 493.5 L1928.4 492.4 L1928.6 499.0 L1925.0 501.1 L1921.0 500.5 L1922.5 497.0ZM1642.5 344.5 L1645.5 344.0 L1646.8 346.5 L1645.0 348.3 L1642.5 347.5ZM1762.0 350.0 L1767.0 347.8 L1772.5 348.5 L1772.0 352.0 L1766.0 355.5 L1762.0 354.5Z" fill="none" stroke="#b0c4de" stroke-width="6.5" stroke-linejoin="round"/>
<path d="M1892 426 L1894.5 440 L1896.5 456 L1896 470" fill="none" stroke="#b0c4de" stroke-width="1.5" stroke-dasharray="2 3"/>
</g>
<rect x="1564.2" y="313.4" width="401.8" height="228.4" fill="none" stroke="#000" stroke-width="1.7"/>
<g clip-path="url(#mapl)">
<path d="M1555.0 349.0 L1571.6 346.7 L1581.3 347.2 L1588.0 347.2 L1591.9 349.6 L1592.8 353.5 L1590.9 358.3 L1587.0 363.1 L1585.1 368.9 L1584.2 375.6 L1582.2 382.4 L1580.3 388.2 L1578.4 394.9 L1576.5 402.6 L1574.5 410.3 L1571.6 417.1 L1567.8 421.9 L1555.0 423.4ZM1555.0 424.6 L1571.6 425.8 L1581.3 424.8 L1590.9 425.8 L1603.8 423.9 L1616.6 423.9 L1626.2 426.4 L1631.4 431.6 L1637.8 436.1 L1637.8 442.5 L1635.9 448.9 L1634.6 458.5 L1633.3 468.2 L1632.0 480.0 L1631.5 486.0 L1633.0 490.9 L1638.0 499.6 L1642.0 504.0 L1646.7 508.3 L1652.0 512.0 L1658.3 515.5 L1663.0 517.0 L1668.4 517.2 L1673.0 515.5 L1678.5 512.6 L1682.0 510.0 L1685.7 508.3 L1691.0 508.3 L1697.3 509.7 L1702.0 512.0 L1707.4 515.5 L1712.0 518.5 L1716.1 521.3 L1720.4 524.2 L1723.5 522.5 L1726.2 519.8 L1730.0 515.0 L1733.4 511.2 L1735.5 505.0 L1737.8 499.6 L1740.5 494.0 L1743.6 490.9 L1749.3 488.0 L1755.1 485.2 L1762.3 483.7 L1768.7 482.3 L1773.0 480.0 L1777.3 477.9 L1781.7 473.6 L1785.0 471.5 L1788.9 470.7 L1793.0 471.5 L1794.7 473.6 L1793.2 477.5 L1789.0 480.0 L1786.0 482.0 L1786.0 486.0 L1788.9 490.5 L1793.2 489.5 L1798.0 487.0 L1803.4 485.2 L1806.2 481.0 L1807.2 476.0 L1809.5 474.5 L1812.0 475.5 L1813.0 480.0 L1813.5 482.3 L1820.7 483.0 L1825.0 484.5 L1829.4 486.6 L1831.5 490.0 L1833.7 495.3 L1840.9 496.7 L1850.0 496.0 L1858.3 495.3 L1864.1 499.6 L1870.0 501.0 L1874.2 501.1 L1878.0 499.5 L1882.8 496.7 L1890.1 493.8 L1901.6 493.8 L1904.5 496.7 L1908.0 500.0 L1911.8 502.5 L1919.0 503.9 L1923.0 507.0 L1926.2 511.2 L1928.5 516.0 L1930.5 519.8 L1935.0 521.5 L1940.7 522.7 L1946.0 526.0 L1950.8 530.0 L1955.0 535.0 L1959.5 540.1 L1968.0 550.0 L1717.0 550.0 L1704.5 532.9 L1698.7 524.2 L1690.1 519.8 L1684.3 517.5 L1681.4 522.7 L1680.5 530.0 L1678.0 535.0 L1672.7 538.6 L1667.0 535.7 L1664.1 530.0 L1661.0 534.0 L1658.3 537.2 L1655.0 533.0 L1652.5 528.5 L1648.0 526.5 L1643.8 525.6 L1639.0 522.5 L1635.2 519.8 L1631.0 516.5 L1627.9 514.1 L1624.0 511.0 L1620.7 508.3 L1614.9 505.4 L1610.0 504.0 L1607.7 502.5 L1606.0 498.0 L1604.8 493.8 L1603.4 488.0 L1600.0 483.0 L1596.0 478.0 L1590.9 471.4 L1584.5 465.0 L1581.3 461.1 L1574.8 459.2 L1555.0 458.3ZM1616.7 343.0 L1620.0 339.5 L1623.5 336.0 L1630.2 331.0 L1637.0 328.3 L1643.7 327.0 L1650.5 325.2 L1657.2 324.7 L1664.0 325.2 L1668.5 324.3 L1675.2 325.9 L1680.0 328.2 L1686.4 332.2 L1692.8 333.8 L1701.2 335.4 L1708.9 339.3 L1715.3 345.7 L1721.8 349.5 L1728.8 352.8 L1735.9 354.7 L1736.5 357.9 L1744.2 359.2 L1749.4 361.8 L1753.9 365.0 L1755.8 366.3 L1750.7 368.2 L1744.2 370.1 L1734.6 369.5 L1725.0 369.5 L1716.0 370.1 L1710.8 370.7 L1713.4 366.3 L1717.3 362.4 L1714.0 359.8 L1707.0 358.5 L1701.2 356.0 L1699.3 350.2 L1696.1 347.0 L1689.6 346.3 L1683.2 345.1 L1677.4 340.9 L1668.5 340.0 L1661.7 339.1 L1655.0 336.9 L1657.2 335.1 L1658.6 333.3 L1655.0 331.9 L1646.0 331.9 L1641.5 334.6 L1637.0 337.3 L1630.2 339.1 L1628.0 340.9 L1624.8 342.3 L1621.2 343.2ZM1765.1 373.0 L1768.0 371.0 L1772.9 369.1 L1779.0 369.5 L1785.7 370.4 L1792.0 369.5 L1798.6 369.8 L1805.0 371.5 L1811.4 374.3 L1815.3 378.1 L1821.7 380.7 L1826.0 382.5 L1829.4 384.5 L1832.0 388.4 L1830.0 391.5 L1828.1 393.5 L1823.0 392.0 L1817.8 391.0 L1813.0 390.5 L1808.8 391.0 L1801.1 393.5 L1797.0 395.0 L1794.7 397.4 L1792.5 400.0 L1790.8 402.5 L1788.5 398.0 L1785.7 394.8 L1781.0 393.5 L1775.4 392.3 L1768.0 392.0 L1760.0 392.3 L1755.0 391.5 L1752.4 389.6 L1755.0 387.0 L1760.0 388.4 L1768.0 387.8 L1775.4 387.1 L1778.0 384.5 L1776.5 382.0 L1774.1 379.4 L1770.0 376.5 L1767.7 374.3ZM1701.4 391.0 L1707.8 389.0 L1713.0 389.5 L1718.0 391.0 L1723.0 392.5 L1727.1 394.8 L1729.6 398.0 L1725.0 398.5 L1720.6 398.7 L1714.2 400.0 L1710.0 399.0 L1707.8 397.4 L1704.0 395.5 L1702.2 393.2ZM1846.1 390.3 L1855.0 389.5 L1865.5 389.8 L1867.5 393.0 L1864.5 396.5 L1855.0 397.5 L1847.0 397.2 L1845.5 394.0ZM1920.4 493.5 L1928.4 492.4 L1928.6 499.0 L1925.0 501.1 L1921.0 500.5 L1922.5 497.0ZM1642.5 344.5 L1645.5 344.0 L1646.8 346.5 L1645.0 348.3 L1642.5 347.5ZM1762.0 350.0 L1767.0 347.8 L1772.5 348.5 L1772.0 352.0 L1766.0 355.5 L1762.0 354.5Z" fill="#d2b48c" stroke="#000" stroke-width="2.7" stroke-linejoin="round"/>
<path d="M1787.0 495.5 L1791.0 494.8 L1795.0 497.5 L1797.3 503.0 L1796.2 509.0 L1792.5 513.0 L1788.5 512.8 L1785.5 508.5 L1784.0 503.0 L1786.0 499.0Z" fill="#b0c4de" stroke="#000" stroke-width="1.5"/>
<path d="M1788.9 490.5 L1789.5 495.5" stroke="#000" stroke-width="2.5"/>
<path d="M1596.7 471.4 L1601.0 472.5 L1609.0 478.0 L1615.0 483.0 L1617.0 487.0 L1612.0 486.5 L1604.0 481.5 L1598.5 476.0Z" fill="#b8c2cc"/>
<path d="M1848.2 541.8 L1855.0 535.0 L1861.2 531.4 L1868.0 531.0 L1875.6 530.0 L1882.0 527.5 L1890.1 525.6 L1897.0 523.5 L1904.5 522.7 L1913.2 519.8 L1919.0 518.0 L1924.8 517.0M1913.2 519.8 L1910.3 511.2 L1908.9 505.4M1910.3 511.2 L1916.1 509.7M1747.9 488.8 L1746.4 496.7 L1748.0 504.0 L1750.8 511.2 L1755.0 515.0 L1758.0 518.4 L1760.9 525.6 L1760.5 533.0 L1759.5 541.8M1594.1 457.3 L1600.5 456.6 L1605.7 453.4 L1613.4 442.5 L1619.8 440.6 L1628.0 438.5 L1637.2 436.1M1616.0 486.5 L1625.0 488.5 L1631.0 491.0" fill="none" stroke="#97b6e1" stroke-width="1.2" stroke-linejoin="round"/>
<path d="M1787.0 370.5 L1787.5 378.0 L1788.0 385.0 L1788.3 392.5M1592.8 459.2 L1593.5 454.7 L1597.3 452.1 L1603.8 450.2 L1610.2 446.3 L1614.7 441.2 L1617.9 438.6 L1623.0 441.2 L1629.4 438.6 L1637.2 436.1M1564.2 447.6 L1567.1 448.3 L1570.4 450.2 L1574.8 449.5 L1579.3 451.5 L1581.3 456.0M1564.6 434.1 L1568.4 430.9 L1572.3 427.1M1604.8 488.0 L1617.8 488.8 L1630.8 493.1M1642.4 508.3 L1641.0 514.0 L1643.8 519.8M1720.4 524.2 L1716.0 528.0 L1713.2 532.9M1781.7 485.2 L1777.0 489.0 L1774.5 493.8 L1770.0 501.0 L1768.7 508.3 L1773.0 514.1 L1777.3 525.6 L1780.2 537.2 L1781.0 541.8M1940.7 524.2 L1932.0 531.4 L1930.5 538.6" fill="none" stroke="#000" stroke-width="1.7" stroke-dasharray="4 2.6"/>
<g fill="#000"><ellipse cx="1679.5" cy="373.0" rx="3.0" ry="1.6"/><ellipse cx="1662.8" cy="378.1" rx="3.0" ry="1.6"/><ellipse cx="1669.0" cy="376.0" rx="1.5" ry="1.0"/><ellipse cx="1590.9" cy="362.6" rx="2.3" ry="3.2"/><ellipse cx="1590.0" cy="421.9" rx="1.6" ry="1.4"/><ellipse cx="1604.0" cy="417.0" rx="1.8" ry="1.3"/><ellipse cx="1645.0" cy="441.0" rx="1.5" ry="2.5"/><ellipse cx="1647.0" cy="446.0" rx="1.5" ry="1.5"/><ellipse cx="1662.6" cy="458.4" rx="1.3" ry="1.3"/><ellipse cx="1658.3" cy="469.3" rx="1.3" ry="1.3"/><ellipse cx="1898.8" cy="392.3" rx="1.5" ry="1.5"/><ellipse cx="1901.4" cy="397.4" rx="1.5" ry="1.5"/><ellipse cx="1904.0" cy="405.1" rx="1.2" ry="1.2"/><ellipse cx="1911.7" cy="412.8" rx="1.2" ry="1.2"/><ellipse cx="1916.1" cy="401.2" rx="1.5" ry="1.5"/><ellipse cx="1916.1" cy="409.0" rx="1.5" ry="1.5"/><ellipse cx="1919.0" cy="418.0" rx="2.6" ry="2.6"/><ellipse cx="1921.0" cy="421.5" rx="2.3" ry="2.0"/><ellipse cx="1922.5" cy="429.5" rx="2.0" ry="2.6"/><ellipse cx="1926.2" cy="440.5" rx="2.8" ry="3.0"/><ellipse cx="1927.6" cy="450.5" rx="2.2" ry="2.6"/><ellipse cx="1924.5" cy="460.6" rx="1.8" ry="2.4"/><ellipse cx="1922.5" cy="467.0" rx="1.5" ry="2.4"/><ellipse cx="1920.5" cy="473.0" rx="1.5" ry="2.0"/><ellipse cx="1887.2" cy="489.5" rx="3.0" ry="3.0"/><ellipse cx="1893.0" cy="488.0" rx="1.5" ry="1.5"/><ellipse cx="1945.7" cy="460.6" rx="2.0" ry="2.0"/><ellipse cx="1931.3" cy="485.9" rx="2.3" ry="1.3"/><ellipse cx="1877.0" cy="400.0" rx="2.5" ry="1.3"/><ellipse cx="1871.0" cy="387.0" rx="1.5" ry="1.0"/><ellipse cx="1877.0" cy="386.0" rx="1.5" ry="1.0"/><ellipse cx="1884.0" cy="385.5" rx="1.5" ry="1.5"/><ellipse cx="1810.6" cy="469.3" rx="1.5" ry="2.0"/><ellipse cx="1822.0" cy="472.4" rx="2.5" ry="1.5"/><ellipse cx="1832.3" cy="473.6" rx="2.0" ry="1.5"/><ellipse cx="1852.5" cy="477.9" rx="2.5" ry="2.0"/><ellipse cx="1859.7" cy="478.6" rx="1.3" ry="1.3"/><ellipse cx="1880.0" cy="477.9" rx="1.3" ry="1.3"/><ellipse cx="1898.7" cy="484.4" rx="1.5" ry="1.5"/><ellipse cx="1871.3" cy="490.2" rx="2.0" ry="1.5"/><ellipse cx="1887.2" cy="489.5" rx="2.5" ry="2.5"/><ellipse cx="1709.0" cy="316.0" rx="2.0" ry="1.5"/><ellipse cx="1712.0" cy="318.0" rx="1.5" ry="1.5"/><ellipse cx="1764.0" cy="322.5" rx="2.0" ry="1.2"/><ellipse cx="1770.5" cy="326.5" rx="1.5" ry="1.2"/><ellipse cx="1574.0" cy="399.0" rx="1.2" ry="3.0"/><ellipse cx="1578.0" cy="388.0" rx="1.0" ry="2.5"/><ellipse cx="1581.0" cy="380.0" rx="1.0" ry="2.0"/></g>
<path d="M1733.3 325.1 L1732.8 329.0 L1733.3 332.8 L1734.5 337.0 L1735.9 341.2M1741.7 323.9 L1745.0 326.0 L1747.4 329.6M1729.6 315.0 L1733.0 318.0 L1736.0 322.0M1754.5 330.5 L1757.5 329.6 L1760.0 331.5 L1758.0 335.0 L1755.5 339.0M1767.7 335.5 L1771.0 336.2 L1775.4 337.0M1778.0 347.3 L1783.1 342.1 L1789.6 343.4 L1792.1 348.6M1620.0 344.5 L1624.0 342.5M1687.7 353.4 L1694.0 356.5 L1700.0 359.0 L1705.7 361.8" fill="none" stroke="#000" stroke-width="2" stroke-linecap="round" stroke-linejoin="round"/>
<path d="M1662 325.5 L1668.5 324.8 L1675 326.3 L1681 328.9 L1687 332.6 L1693 334.4 L1701 336 L1708.5 340 L1714.5 345.5 L1721 349.5" fill="none" stroke="#000" stroke-width="4" stroke-linecap="round" stroke-linejoin="round"/>
<path d="M1581.5 381 L1579 390 L1577.3 398 L1575.5 406 L1573.8 412" fill="none" stroke="#000" stroke-width="4.2" stroke-linecap="round" stroke-linejoin="round"/>
<path d="M1643.5 440 L1645.5 446 M1583 457 L1585 462 M1594.5 418.5 L1600 417.5 L1604.5 417" fill="none" stroke="#000" stroke-width="3.3" stroke-linecap="round"/>
<circle cx="1826.5" cy="423.7" r="4.2" fill="#ff0000" stroke="#000" stroke-width="1.2"/>
</g>
<path d="M1616.3 313.4V304.6M1616.3 541.8V550.6M1681.1 313.4V304.6M1681.1 541.8V550.6M1746.0 313.4V304.6M1746.0 541.8V550.6M1810.8 313.4V304.6M1810.8 541.8V550.6M1875.7 313.4V304.6M1875.7 541.8V550.6M1940.5 313.4V304.6M1940.5 541.8V550.6M1564.2 503.2H1555.4M1966.0 503.2H1974.8M1564.2 437.1H1555.4M1966.0 437.1H1974.8M1564.2 369.4H1555.4M1966.0 369.4H1974.8" stroke="#000" stroke-width="2.6" fill="none"/>
<path d="M1564.4 313.4V309.9M1564.4 541.8V545.3M1577.4 313.4V309.9M1577.4 541.8V545.3M1590.4 313.4V309.9M1590.4 541.8V545.3M1603.3 313.4V309.9M1603.3 541.8V545.3M1629.3 313.4V309.9M1629.3 541.8V545.3M1642.2 313.4V309.9M1642.2 541.8V545.3M1655.2 313.4V309.9M1655.2 541.8V545.3M1668.2 313.4V309.9M1668.2 541.8V545.3M1694.1 313.4V309.9M1694.1 541.8V545.3M1707.1 313.4V309.9M1707.1 541.8V545.3M1720.1 313.4V309.9M1720.1 541.8V545.3M1733.0 313.4V309.9M1733.0 541.8V545.3M1759.0 313.4V309.9M1759.0 541.8V545.3M1771.9 313.4V309.9M1771.9 541.8V545.3M1784.9 313.4V309.9M1784.9 541.8V545.3M1797.9 313.4V309.9M1797.9 541.8V545.3M1823.8 313.4V309.9M1823.8 541.8V545.3M1836.8 313.4V309.9M1836.8 541.8V545.3M1849.8 313.4V309.9M1849.8 541.8V545.3M1862.7 313.4V309.9M1862.7 541.8V545.3M1888.7 313.4V309.9M1888.7 541.8V545.3M1901.6 313.4V309.9M1901.6 541.8V545.3M1914.6 313.4V309.9M1914.6 541.8V545.3M1927.6 313.4V309.9M1927.6 541.8V545.3M1953.5 313.4V309.9M1953.5 541.8V545.3M1966.5 313.4V309.9M1966.5 541.8V545.3M1564.2 542.3H1560.7M1966.0 542.3H1969.5M1564.2 529.3H1560.7M1966.0 529.3H1969.5M1564.2 516.3H1560.7M1966.0 516.3H1969.5M1564.2 490.1H1560.7M1966.0 490.1H1969.5M1564.2 476.9H1560.7M1966.0 476.9H1969.5M1564.2 463.7H1560.7M1966.0 463.7H1969.5M1564.2 450.4H1560.7M1966.0 450.4H1969.5M1564.2 423.7H1560.7M1966.0 423.7H1969.5M1564.2 410.2H1560.7M1966.0 410.2H1969.5M1564.2 396.7H1560.7M1966.0 396.7H1969.5M1564.2 383.1H1560.7M1966.0 383.1H1969.5M1564.2 355.6H1560.7M1966.0 355.6H1969.5M1564.2 341.8H1560.7M1966.0 341.8H1969.5M1564.2 327.8H1560.7M1966.0 327.8H1969.5M1564.2 313.7H1560.7M1966.0 313.7H1969.5" stroke="#000" stroke-width="1.4" fill="none"/>
<g font-family="'DejaVu Sans', 'Liberation Sans', sans-serif" font-size="22.57px" fill="#000"><text x="1616.3" y="574.8" text-anchor="middle">85°W</text><text x="1681.1" y="574.8" text-anchor="middle">80°W</text><text x="1746.0" y="574.8" text-anchor="middle">75°W</text><text x="1810.8" y="574.8" text-anchor="middle">70°W</text><text x="1875.7" y="574.8" text-anchor="middle">65°W</text><text x="1940.5" y="574.8" text-anchor="middle">60°W</text><text x="1549" y="512.3" text-anchor="end">10°N</text><text x="1549" y="446.2" text-anchor="end">15°N</text><text x="1549" y="378.5" text-anchor="end">20°N</text></g>
<rect x="1687.1" y="700" width="155.5" height="74.6" rx="4" ry="4" fill="#fff" fill-opacity="0.8" stroke="#cccccc" stroke-width="1.39"/>
<path d="M1694.9 719.5H1742.9" stroke="#0000ff" stroke-width="2.6"/><circle cx="1718.5" cy="719.5" r="6.08" fill="#0000ff"/>
<path d="M1694.9 754.3H1742.9" stroke="#ff0000" stroke-width="2.6"/><circle cx="1718.5" cy="754.3" r="6.08" fill="#ff0000"/>
<g font-family="'DejaVu Sans', 'Liberation Sans', sans-serif" font-size="22.57px" fill="#000"><text x="1759" y="727.8">SG663</text><text x="1759" y="761.7">RTOFS</text></g>
</svg>
</body></html>
